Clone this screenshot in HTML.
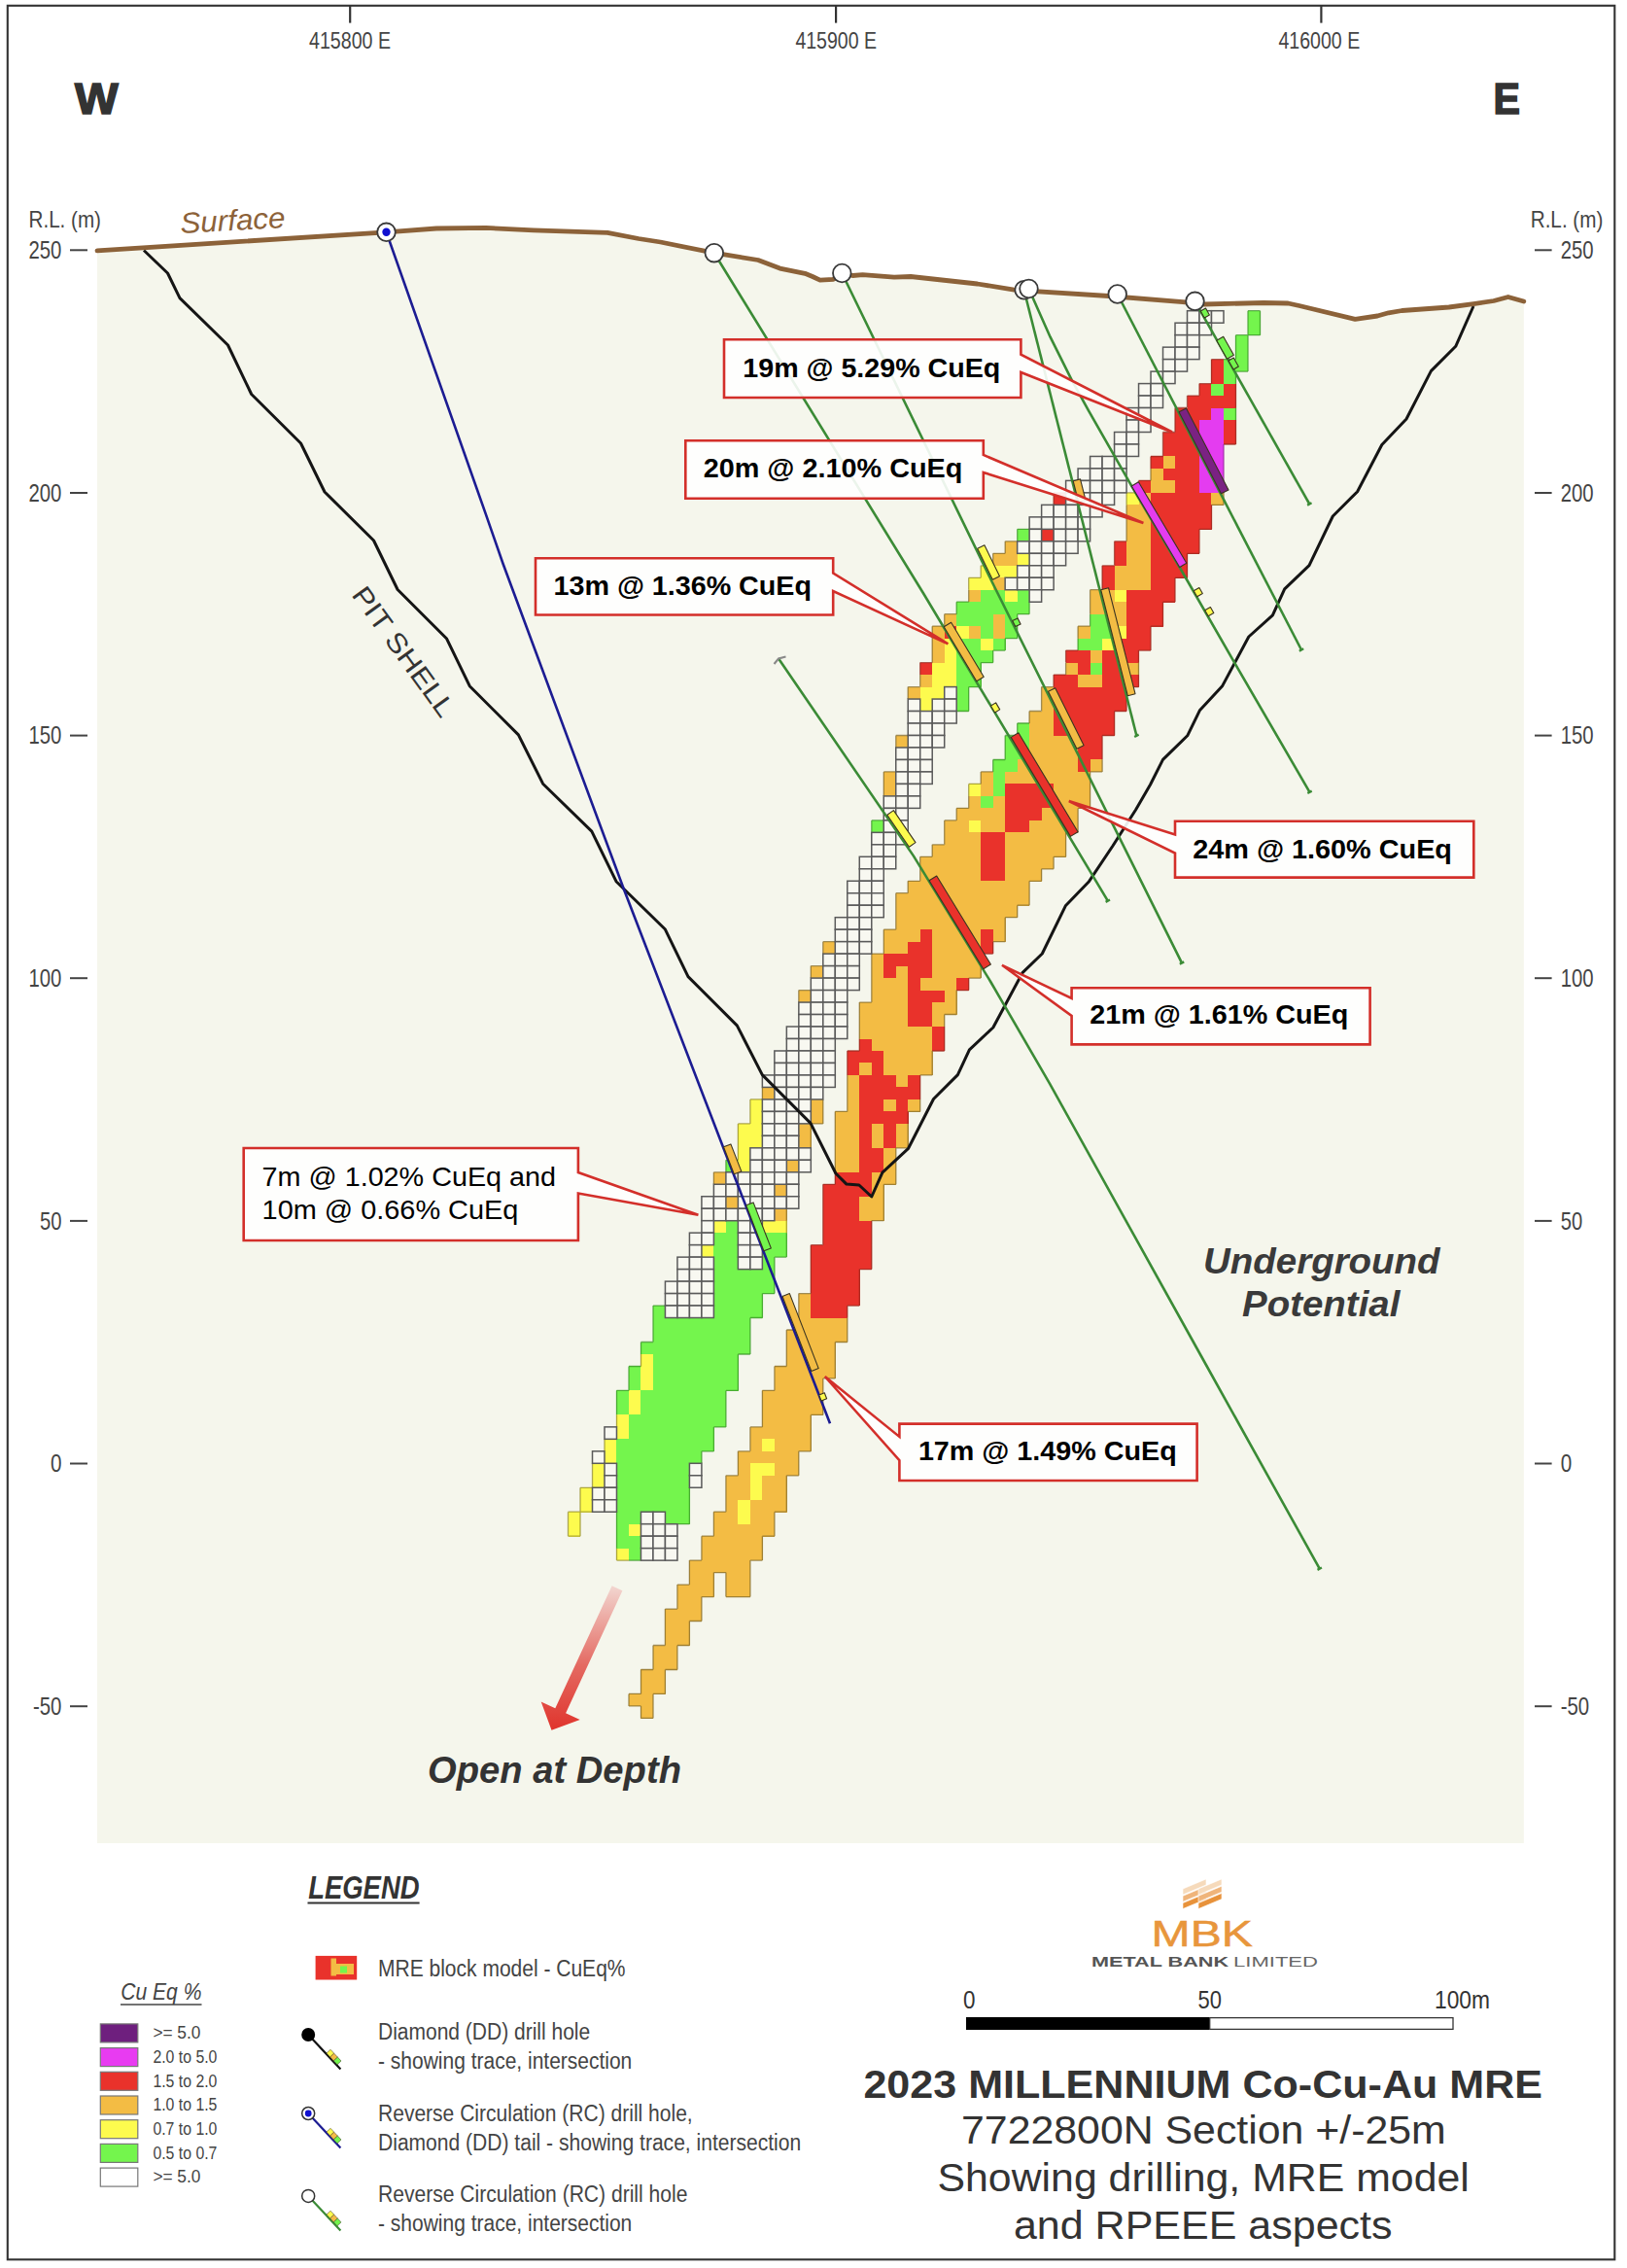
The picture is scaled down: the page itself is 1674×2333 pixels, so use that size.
<!DOCTYPE html>
<html><head><meta charset="utf-8"><style>
html,body{margin:0;padding:0;background:#fff;}
svg{display:block;}
text{font-family:"Liberation Sans", sans-serif;}
</style></head><body>
<svg width="1674" height="2333" viewBox="0 0 1674 2333">
<defs>
<linearGradient id="arrg" x1="0" y1="0" x2="0" y2="1">
<stop offset="0" stop-color="#F2D6D0"/><stop offset="0.55" stop-color="#E46A62"/><stop offset="1" stop-color="#E0342C"/>
</linearGradient>
</defs>
<rect x="0" y="0" width="1674" height="2333" fill="#fff"/>

<polygon points="100.0,257.9 397.5,238.8 449.0,235.0 500.0,234.4 549.0,236.8 625.0,239.3 657.0,245.5 679.5,249.0 734.8,260.2 780.0,267.5 802.4,276.1 828.2,281.3 836.0,284.5 843.7,288.2 857.5,287.3 866.3,281.5 877.2,283.5 887.6,282.6 920.0,285.2 937.0,284.5 1005.6,292.0 1045.0,298.3 1140.8,304.5 1217.0,310.6 1239.0,313.0 1300.0,311.5 1325.3,312.0 1336.8,314.5 1394.3,328.3 1417.2,325.0 1428.7,321.8 1442.5,319.5 1490.8,316.0 1516.0,312.6 1536.8,309.5 1551.7,305.5 1567.8,310.0 1567.8,1896 100,1896" fill="#F5F6EC"/>
<g shape-rendering="crispEdges"><rect x="1283.96" y="319.70" width="12.84" height="12.83" fill="#74F54D"/><rect x="1283.96" y="332.18" width="12.84" height="12.83" fill="#74F54D"/><rect x="1271.47" y="344.66" width="12.84" height="12.83" fill="#74F54D"/><rect x="1271.47" y="357.14" width="12.84" height="12.83" fill="#74F54D"/><rect x="1246.49" y="369.62" width="12.84" height="12.83" fill="#E9322B"/><rect x="1258.98" y="369.62" width="12.84" height="12.83" fill="#74F54D"/><rect x="1271.47" y="369.62" width="12.84" height="12.83" fill="#74F54D"/><rect x="1246.49" y="382.10" width="12.84" height="12.83" fill="#E9322B"/><rect x="1258.98" y="382.10" width="12.84" height="12.83" fill="#74F54D"/><rect x="1234.00" y="394.58" width="12.84" height="12.83" fill="#E9322B"/><rect x="1246.49" y="394.58" width="12.84" height="12.83" fill="#74F54D"/><rect x="1258.98" y="394.58" width="12.84" height="12.83" fill="#E9322B"/><rect x="1221.51" y="407.06" width="12.84" height="12.83" fill="#E9322B"/><rect x="1234.00" y="407.06" width="12.84" height="12.83" fill="#E9322B"/><rect x="1246.49" y="407.06" width="12.84" height="12.83" fill="#E9322B"/><rect x="1258.98" y="407.06" width="12.84" height="12.83" fill="#E9322B"/><rect x="1209.02" y="419.54" width="12.84" height="12.83" fill="#E9322B"/><rect x="1221.51" y="419.54" width="12.84" height="12.83" fill="#E9322B"/><rect x="1234.00" y="419.54" width="12.84" height="12.83" fill="#E9322B"/><rect x="1246.49" y="419.54" width="12.84" height="12.83" fill="#E43CF0"/><rect x="1258.98" y="419.54" width="12.84" height="12.83" fill="#74F54D"/><rect x="1209.02" y="432.02" width="12.84" height="12.83" fill="#E9322B"/><rect x="1221.51" y="432.02" width="12.84" height="12.83" fill="#E9322B"/><rect x="1234.00" y="432.02" width="12.84" height="12.83" fill="#E43CF0"/><rect x="1246.49" y="432.02" width="12.84" height="12.83" fill="#E43CF0"/><rect x="1258.98" y="432.02" width="12.84" height="12.83" fill="#E9322B"/><rect x="1196.53" y="444.50" width="12.84" height="12.83" fill="#E9322B"/><rect x="1209.02" y="444.50" width="12.84" height="12.83" fill="#E9322B"/><rect x="1221.51" y="444.50" width="12.84" height="12.83" fill="#E9322B"/><rect x="1234.00" y="444.50" width="12.84" height="12.83" fill="#E43CF0"/><rect x="1246.49" y="444.50" width="12.84" height="12.83" fill="#E43CF0"/><rect x="1258.98" y="444.50" width="12.84" height="12.83" fill="#E9322B"/><rect x="1196.53" y="456.98" width="12.84" height="12.83" fill="#E9322B"/><rect x="1209.02" y="456.98" width="12.84" height="12.83" fill="#E9322B"/><rect x="1221.51" y="456.98" width="12.84" height="12.83" fill="#E9322B"/><rect x="1234.00" y="456.98" width="12.84" height="12.83" fill="#E43CF0"/><rect x="1246.49" y="456.98" width="12.84" height="12.83" fill="#E43CF0"/><rect x="1184.04" y="469.46" width="12.84" height="12.83" fill="#E9322B"/><rect x="1196.53" y="469.46" width="12.84" height="12.83" fill="#F3BC44"/><rect x="1209.02" y="469.46" width="12.84" height="12.83" fill="#E9322B"/><rect x="1221.51" y="469.46" width="12.84" height="12.83" fill="#E9322B"/><rect x="1234.00" y="469.46" width="12.84" height="12.83" fill="#E43CF0"/><rect x="1246.49" y="469.46" width="12.84" height="12.83" fill="#E43CF0"/><rect x="1184.04" y="481.94" width="12.84" height="12.83" fill="#F3BC44"/><rect x="1196.53" y="481.94" width="12.84" height="12.83" fill="#E9322B"/><rect x="1209.02" y="481.94" width="12.84" height="12.83" fill="#E9322B"/><rect x="1221.51" y="481.94" width="12.84" height="12.83" fill="#E9322B"/><rect x="1234.00" y="481.94" width="12.84" height="12.83" fill="#E43CF0"/><rect x="1246.49" y="481.94" width="12.84" height="12.83" fill="#E43CF0"/><rect x="1171.55" y="494.42" width="12.84" height="12.83" fill="#E9322B"/><rect x="1184.04" y="494.42" width="12.84" height="12.83" fill="#F3BC44"/><rect x="1196.53" y="494.42" width="12.84" height="12.83" fill="#F3BC44"/><rect x="1209.02" y="494.42" width="12.84" height="12.83" fill="#E9322B"/><rect x="1221.51" y="494.42" width="12.84" height="12.83" fill="#E9322B"/><rect x="1234.00" y="494.42" width="12.84" height="12.83" fill="#E43CF0"/><rect x="1246.49" y="494.42" width="12.84" height="12.83" fill="#E43CF0"/><rect x="1084.12" y="506.90" width="12.84" height="12.83" fill="#E9322B"/><rect x="1159.06" y="506.90" width="12.84" height="12.83" fill="#FDFB4E"/><rect x="1171.55" y="506.90" width="12.84" height="12.83" fill="#F3BC44"/><rect x="1184.04" y="506.90" width="12.84" height="12.83" fill="#E9322B"/><rect x="1196.53" y="506.90" width="12.84" height="12.83" fill="#E9322B"/><rect x="1209.02" y="506.90" width="12.84" height="12.83" fill="#E9322B"/><rect x="1221.51" y="506.90" width="12.84" height="12.83" fill="#E9322B"/><rect x="1234.00" y="506.90" width="12.84" height="12.83" fill="#E9322B"/><rect x="1246.49" y="506.90" width="12.84" height="12.83" fill="#F3BC44"/><rect x="1159.06" y="519.38" width="12.84" height="12.83" fill="#F3BC44"/><rect x="1171.55" y="519.38" width="12.84" height="12.83" fill="#F3BC44"/><rect x="1184.04" y="519.38" width="12.84" height="12.83" fill="#E9322B"/><rect x="1196.53" y="519.38" width="12.84" height="12.83" fill="#E9322B"/><rect x="1209.02" y="519.38" width="12.84" height="12.83" fill="#E9322B"/><rect x="1221.51" y="519.38" width="12.84" height="12.83" fill="#E9322B"/><rect x="1234.00" y="519.38" width="12.84" height="12.83" fill="#E9322B"/><rect x="1159.06" y="531.86" width="12.84" height="12.83" fill="#F3BC44"/><rect x="1171.55" y="531.86" width="12.84" height="12.83" fill="#F3BC44"/><rect x="1184.04" y="531.86" width="12.84" height="12.83" fill="#E9322B"/><rect x="1196.53" y="531.86" width="12.84" height="12.83" fill="#E9322B"/><rect x="1209.02" y="531.86" width="12.84" height="12.83" fill="#E9322B"/><rect x="1221.51" y="531.86" width="12.84" height="12.83" fill="#E9322B"/><rect x="1234.00" y="531.86" width="12.84" height="12.83" fill="#E9322B"/><rect x="1046.65" y="544.34" width="12.84" height="12.83" fill="#74F54D"/><rect x="1071.63" y="544.34" width="12.84" height="12.83" fill="#E9322B"/><rect x="1159.06" y="544.34" width="12.84" height="12.83" fill="#F3BC44"/><rect x="1171.55" y="544.34" width="12.84" height="12.83" fill="#F3BC44"/><rect x="1184.04" y="544.34" width="12.84" height="12.83" fill="#E9322B"/><rect x="1196.53" y="544.34" width="12.84" height="12.83" fill="#E9322B"/><rect x="1209.02" y="544.34" width="12.84" height="12.83" fill="#E9322B"/><rect x="1221.51" y="544.34" width="12.84" height="12.83" fill="#E9322B"/><rect x="1034.16" y="556.82" width="12.84" height="12.83" fill="#F3BC44"/><rect x="1146.57" y="556.82" width="12.84" height="12.83" fill="#E9322B"/><rect x="1159.06" y="556.82" width="12.84" height="12.83" fill="#F3BC44"/><rect x="1171.55" y="556.82" width="12.84" height="12.83" fill="#F3BC44"/><rect x="1184.04" y="556.82" width="12.84" height="12.83" fill="#E9322B"/><rect x="1196.53" y="556.82" width="12.84" height="12.83" fill="#E9322B"/><rect x="1209.02" y="556.82" width="12.84" height="12.83" fill="#E9322B"/><rect x="1221.51" y="556.82" width="12.84" height="12.83" fill="#E9322B"/><rect x="1021.67" y="569.30" width="12.84" height="12.83" fill="#F3BC44"/><rect x="1034.16" y="569.30" width="12.84" height="12.83" fill="#F3BC44"/><rect x="1046.65" y="569.30" width="12.84" height="12.83" fill="#FDFB4E"/><rect x="1146.57" y="569.30" width="12.84" height="12.83" fill="#E9322B"/><rect x="1159.06" y="569.30" width="12.84" height="12.83" fill="#F3BC44"/><rect x="1171.55" y="569.30" width="12.84" height="12.83" fill="#F3BC44"/><rect x="1184.04" y="569.30" width="12.84" height="12.83" fill="#E9322B"/><rect x="1196.53" y="569.30" width="12.84" height="12.83" fill="#E9322B"/><rect x="1209.02" y="569.30" width="12.84" height="12.83" fill="#E9322B"/><rect x="1009.18" y="581.78" width="12.84" height="12.83" fill="#FDFB4E"/><rect x="1021.67" y="581.78" width="12.84" height="12.83" fill="#FDFB4E"/><rect x="1034.16" y="581.78" width="12.84" height="12.83" fill="#FDFB4E"/><rect x="1134.08" y="581.78" width="12.84" height="12.83" fill="#E9322B"/><rect x="1146.57" y="581.78" width="12.84" height="12.83" fill="#F3BC44"/><rect x="1159.06" y="581.78" width="12.84" height="12.83" fill="#F3BC44"/><rect x="1171.55" y="581.78" width="12.84" height="12.83" fill="#F3BC44"/><rect x="1184.04" y="581.78" width="12.84" height="12.83" fill="#E9322B"/><rect x="1196.53" y="581.78" width="12.84" height="12.83" fill="#E9322B"/><rect x="1209.02" y="581.78" width="12.84" height="12.83" fill="#E9322B"/><rect x="996.69" y="594.26" width="12.84" height="12.83" fill="#FDFB4E"/><rect x="1009.18" y="594.26" width="12.84" height="12.83" fill="#FDFB4E"/><rect x="1021.67" y="594.26" width="12.84" height="12.83" fill="#F3BC44"/><rect x="1134.08" y="594.26" width="12.84" height="12.83" fill="#E9322B"/><rect x="1146.57" y="594.26" width="12.84" height="12.83" fill="#F3BC44"/><rect x="1159.06" y="594.26" width="12.84" height="12.83" fill="#F3BC44"/><rect x="1171.55" y="594.26" width="12.84" height="12.83" fill="#F3BC44"/><rect x="1184.04" y="594.26" width="12.84" height="12.83" fill="#E9322B"/><rect x="1196.53" y="594.26" width="12.84" height="12.83" fill="#E9322B"/><rect x="996.69" y="606.74" width="12.84" height="12.83" fill="#F3BC44"/><rect x="1009.18" y="606.74" width="12.84" height="12.83" fill="#74F54D"/><rect x="1021.67" y="606.74" width="12.84" height="12.83" fill="#74F54D"/><rect x="1034.16" y="606.74" width="12.84" height="12.83" fill="#FDFB4E"/><rect x="1046.65" y="606.74" width="12.84" height="12.83" fill="#74F54D"/><rect x="1121.59" y="606.74" width="12.84" height="12.83" fill="#F3BC44"/><rect x="1134.08" y="606.74" width="12.84" height="12.83" fill="#F3BC44"/><rect x="1146.57" y="606.74" width="12.84" height="12.83" fill="#FDFB4E"/><rect x="1159.06" y="606.74" width="12.84" height="12.83" fill="#E9322B"/><rect x="1171.55" y="606.74" width="12.84" height="12.83" fill="#E9322B"/><rect x="1184.04" y="606.74" width="12.84" height="12.83" fill="#E9322B"/><rect x="1196.53" y="606.74" width="12.84" height="12.83" fill="#E9322B"/><rect x="984.20" y="619.22" width="12.84" height="12.83" fill="#74F54D"/><rect x="996.69" y="619.22" width="12.84" height="12.83" fill="#74F54D"/><rect x="1009.18" y="619.22" width="12.84" height="12.83" fill="#74F54D"/><rect x="1021.67" y="619.22" width="12.84" height="12.83" fill="#74F54D"/><rect x="1034.16" y="619.22" width="12.84" height="12.83" fill="#74F54D"/><rect x="1046.65" y="619.22" width="12.84" height="12.83" fill="#74F54D"/><rect x="1121.59" y="619.22" width="12.84" height="12.83" fill="#F3BC44"/><rect x="1134.08" y="619.22" width="12.84" height="12.83" fill="#F3BC44"/><rect x="1146.57" y="619.22" width="12.84" height="12.83" fill="#F3BC44"/><rect x="1159.06" y="619.22" width="12.84" height="12.83" fill="#E9322B"/><rect x="1171.55" y="619.22" width="12.84" height="12.83" fill="#E9322B"/><rect x="1184.04" y="619.22" width="12.84" height="12.83" fill="#E9322B"/><rect x="971.71" y="631.70" width="12.84" height="12.83" fill="#F3BC44"/><rect x="984.20" y="631.70" width="12.84" height="12.83" fill="#74F54D"/><rect x="996.69" y="631.70" width="12.84" height="12.83" fill="#74F54D"/><rect x="1009.18" y="631.70" width="12.84" height="12.83" fill="#74F54D"/><rect x="1021.67" y="631.70" width="12.84" height="12.83" fill="#F3BC44"/><rect x="1034.16" y="631.70" width="12.84" height="12.83" fill="#74F54D"/><rect x="1121.59" y="631.70" width="12.84" height="12.83" fill="#74F54D"/><rect x="1134.08" y="631.70" width="12.84" height="12.83" fill="#74F54D"/><rect x="1146.57" y="631.70" width="12.84" height="12.83" fill="#F3BC44"/><rect x="1159.06" y="631.70" width="12.84" height="12.83" fill="#E9322B"/><rect x="1171.55" y="631.70" width="12.84" height="12.83" fill="#E9322B"/><rect x="1184.04" y="631.70" width="12.84" height="12.83" fill="#E9322B"/><rect x="959.22" y="644.18" width="12.84" height="12.83" fill="#F3BC44"/><rect x="971.71" y="644.18" width="12.84" height="12.83" fill="#E9322B"/><rect x="984.20" y="644.18" width="12.84" height="12.83" fill="#FDFB4E"/><rect x="996.69" y="644.18" width="12.84" height="12.83" fill="#F3BC44"/><rect x="1009.18" y="644.18" width="12.84" height="12.83" fill="#74F54D"/><rect x="1021.67" y="644.18" width="12.84" height="12.83" fill="#F3BC44"/><rect x="1034.16" y="644.18" width="12.84" height="12.83" fill="#74F54D"/><rect x="1109.10" y="644.18" width="12.84" height="12.83" fill="#F3BC44"/><rect x="1121.59" y="644.18" width="12.84" height="12.83" fill="#74F54D"/><rect x="1134.08" y="644.18" width="12.84" height="12.83" fill="#74F54D"/><rect x="1146.57" y="644.18" width="12.84" height="12.83" fill="#FDFB4E"/><rect x="1159.06" y="644.18" width="12.84" height="12.83" fill="#E9322B"/><rect x="1171.55" y="644.18" width="12.84" height="12.83" fill="#E9322B"/><rect x="959.22" y="656.66" width="12.84" height="12.83" fill="#F3BC44"/><rect x="971.71" y="656.66" width="12.84" height="12.83" fill="#FDFB4E"/><rect x="984.20" y="656.66" width="12.84" height="12.83" fill="#74F54D"/><rect x="996.69" y="656.66" width="12.84" height="12.83" fill="#74F54D"/><rect x="1009.18" y="656.66" width="12.84" height="12.83" fill="#FDFB4E"/><rect x="1021.67" y="656.66" width="12.84" height="12.83" fill="#74F54D"/><rect x="1109.10" y="656.66" width="12.84" height="12.83" fill="#74F54D"/><rect x="1121.59" y="656.66" width="12.84" height="12.83" fill="#74F54D"/><rect x="1134.08" y="656.66" width="12.84" height="12.83" fill="#FDFB4E"/><rect x="1146.57" y="656.66" width="12.84" height="12.83" fill="#E9322B"/><rect x="1159.06" y="656.66" width="12.84" height="12.83" fill="#E9322B"/><rect x="1171.55" y="656.66" width="12.84" height="12.83" fill="#E9322B"/><rect x="959.22" y="669.14" width="12.84" height="12.83" fill="#F3BC44"/><rect x="971.71" y="669.14" width="12.84" height="12.83" fill="#FDFB4E"/><rect x="984.20" y="669.14" width="12.84" height="12.83" fill="#74F54D"/><rect x="996.69" y="669.14" width="12.84" height="12.83" fill="#74F54D"/><rect x="1009.18" y="669.14" width="12.84" height="12.83" fill="#74F54D"/><rect x="1096.61" y="669.14" width="12.84" height="12.83" fill="#E9322B"/><rect x="1109.10" y="669.14" width="12.84" height="12.83" fill="#E9322B"/><rect x="1121.59" y="669.14" width="12.84" height="12.83" fill="#F3BC44"/><rect x="1134.08" y="669.14" width="12.84" height="12.83" fill="#E9322B"/><rect x="1146.57" y="669.14" width="12.84" height="12.83" fill="#E9322B"/><rect x="1159.06" y="669.14" width="12.84" height="12.83" fill="#E9322B"/><rect x="946.73" y="681.62" width="12.84" height="12.83" fill="#E9322B"/><rect x="959.22" y="681.62" width="12.84" height="12.83" fill="#FDFB4E"/><rect x="971.71" y="681.62" width="12.84" height="12.83" fill="#FDFB4E"/><rect x="984.20" y="681.62" width="12.84" height="12.83" fill="#74F54D"/><rect x="996.69" y="681.62" width="12.84" height="12.83" fill="#74F54D"/><rect x="1096.61" y="681.62" width="12.84" height="12.83" fill="#F3BC44"/><rect x="1109.10" y="681.62" width="12.84" height="12.83" fill="#E9322B"/><rect x="1121.59" y="681.62" width="12.84" height="12.83" fill="#74F54D"/><rect x="1134.08" y="681.62" width="12.84" height="12.83" fill="#E9322B"/><rect x="1146.57" y="681.62" width="12.84" height="12.83" fill="#E9322B"/><rect x="1159.06" y="681.62" width="12.84" height="12.83" fill="#F3BC44"/><rect x="946.73" y="694.10" width="12.84" height="12.83" fill="#F3BC44"/><rect x="959.22" y="694.10" width="12.84" height="12.83" fill="#FDFB4E"/><rect x="971.71" y="694.10" width="12.84" height="12.83" fill="#FDFB4E"/><rect x="984.20" y="694.10" width="12.84" height="12.83" fill="#74F54D"/><rect x="996.69" y="694.10" width="12.84" height="12.83" fill="#74F54D"/><rect x="1084.12" y="694.10" width="12.84" height="12.83" fill="#E9322B"/><rect x="1096.61" y="694.10" width="12.84" height="12.83" fill="#E9322B"/><rect x="1109.10" y="694.10" width="12.84" height="12.83" fill="#F3BC44"/><rect x="1121.59" y="694.10" width="12.84" height="12.83" fill="#F3BC44"/><rect x="1134.08" y="694.10" width="12.84" height="12.83" fill="#E9322B"/><rect x="1146.57" y="694.10" width="12.84" height="12.83" fill="#E9322B"/><rect x="1159.06" y="694.10" width="12.84" height="12.83" fill="#E9322B"/><rect x="934.24" y="706.58" width="12.84" height="12.83" fill="#F3BC44"/><rect x="946.73" y="706.58" width="12.84" height="12.83" fill="#FDFB4E"/><rect x="959.22" y="706.58" width="12.84" height="12.83" fill="#FDFB4E"/><rect x="984.20" y="706.58" width="12.84" height="12.83" fill="#74F54D"/><rect x="1071.63" y="706.58" width="12.84" height="12.83" fill="#F3BC44"/><rect x="1084.12" y="706.58" width="12.84" height="12.83" fill="#E9322B"/><rect x="1096.61" y="706.58" width="12.84" height="12.83" fill="#E9322B"/><rect x="1109.10" y="706.58" width="12.84" height="12.83" fill="#E9322B"/><rect x="1121.59" y="706.58" width="12.84" height="12.83" fill="#E9322B"/><rect x="1134.08" y="706.58" width="12.84" height="12.83" fill="#E9322B"/><rect x="1146.57" y="706.58" width="12.84" height="12.83" fill="#E9322B"/><rect x="946.73" y="719.06" width="12.84" height="12.83" fill="#FDFB4E"/><rect x="984.20" y="719.06" width="12.84" height="12.83" fill="#74F54D"/><rect x="1071.63" y="719.06" width="12.84" height="12.83" fill="#F3BC44"/><rect x="1084.12" y="719.06" width="12.84" height="12.83" fill="#E9322B"/><rect x="1096.61" y="719.06" width="12.84" height="12.83" fill="#E9322B"/><rect x="1109.10" y="719.06" width="12.84" height="12.83" fill="#E9322B"/><rect x="1121.59" y="719.06" width="12.84" height="12.83" fill="#E9322B"/><rect x="1134.08" y="719.06" width="12.84" height="12.83" fill="#E9322B"/><rect x="1146.57" y="719.06" width="12.84" height="12.83" fill="#E9322B"/><rect x="1059.14" y="731.54" width="12.84" height="12.83" fill="#F3BC44"/><rect x="1071.63" y="731.54" width="12.84" height="12.83" fill="#F3BC44"/><rect x="1084.12" y="731.54" width="12.84" height="12.83" fill="#E9322B"/><rect x="1096.61" y="731.54" width="12.84" height="12.83" fill="#E9322B"/><rect x="1109.10" y="731.54" width="12.84" height="12.83" fill="#E9322B"/><rect x="1121.59" y="731.54" width="12.84" height="12.83" fill="#E9322B"/><rect x="1134.08" y="731.54" width="12.84" height="12.83" fill="#E9322B"/><rect x="1046.65" y="744.02" width="12.84" height="12.83" fill="#74F54D"/><rect x="1059.14" y="744.02" width="12.84" height="12.83" fill="#F3BC44"/><rect x="1071.63" y="744.02" width="12.84" height="12.83" fill="#F3BC44"/><rect x="1084.12" y="744.02" width="12.84" height="12.83" fill="#E9322B"/><rect x="1096.61" y="744.02" width="12.84" height="12.83" fill="#E9322B"/><rect x="1109.10" y="744.02" width="12.84" height="12.83" fill="#E9322B"/><rect x="1121.59" y="744.02" width="12.84" height="12.83" fill="#E9322B"/><rect x="1134.08" y="744.02" width="12.84" height="12.83" fill="#E9322B"/><rect x="921.75" y="756.50" width="12.84" height="12.83" fill="#F3BC44"/><rect x="1034.16" y="756.50" width="12.84" height="12.83" fill="#74F54D"/><rect x="1046.65" y="756.50" width="12.84" height="12.83" fill="#74F54D"/><rect x="1059.14" y="756.50" width="12.84" height="12.83" fill="#F3BC44"/><rect x="1071.63" y="756.50" width="12.84" height="12.83" fill="#F3BC44"/><rect x="1084.12" y="756.50" width="12.84" height="12.83" fill="#F3BC44"/><rect x="1096.61" y="756.50" width="12.84" height="12.83" fill="#F3BC44"/><rect x="1109.10" y="756.50" width="12.84" height="12.83" fill="#E9322B"/><rect x="1121.59" y="756.50" width="12.84" height="12.83" fill="#E9322B"/><rect x="1034.16" y="768.98" width="12.84" height="12.83" fill="#74F54D"/><rect x="1046.65" y="768.98" width="12.84" height="12.83" fill="#74F54D"/><rect x="1059.14" y="768.98" width="12.84" height="12.83" fill="#F3BC44"/><rect x="1071.63" y="768.98" width="12.84" height="12.83" fill="#F3BC44"/><rect x="1084.12" y="768.98" width="12.84" height="12.83" fill="#F3BC44"/><rect x="1096.61" y="768.98" width="12.84" height="12.83" fill="#F3BC44"/><rect x="1109.10" y="768.98" width="12.84" height="12.83" fill="#E9322B"/><rect x="1121.59" y="768.98" width="12.84" height="12.83" fill="#E9322B"/><rect x="1021.67" y="781.46" width="12.84" height="12.83" fill="#74F54D"/><rect x="1034.16" y="781.46" width="12.84" height="12.83" fill="#74F54D"/><rect x="1046.65" y="781.46" width="12.84" height="12.83" fill="#F3BC44"/><rect x="1059.14" y="781.46" width="12.84" height="12.83" fill="#F3BC44"/><rect x="1071.63" y="781.46" width="12.84" height="12.83" fill="#F3BC44"/><rect x="1084.12" y="781.46" width="12.84" height="12.83" fill="#F3BC44"/><rect x="1096.61" y="781.46" width="12.84" height="12.83" fill="#F3BC44"/><rect x="1109.10" y="781.46" width="12.84" height="12.83" fill="#E9322B"/><rect x="1121.59" y="781.46" width="12.84" height="12.83" fill="#F3BC44"/><rect x="909.26" y="793.94" width="12.84" height="12.83" fill="#F3BC44"/><rect x="1009.18" y="793.94" width="12.84" height="12.83" fill="#F3BC44"/><rect x="1021.67" y="793.94" width="12.84" height="12.83" fill="#74F54D"/><rect x="1034.16" y="793.94" width="12.84" height="12.83" fill="#F3BC44"/><rect x="1046.65" y="793.94" width="12.84" height="12.83" fill="#F3BC44"/><rect x="1059.14" y="793.94" width="12.84" height="12.83" fill="#F3BC44"/><rect x="1071.63" y="793.94" width="12.84" height="12.83" fill="#F3BC44"/><rect x="1084.12" y="793.94" width="12.84" height="12.83" fill="#F3BC44"/><rect x="1096.61" y="793.94" width="12.84" height="12.83" fill="#F3BC44"/><rect x="1109.10" y="793.94" width="12.84" height="12.83" fill="#F3BC44"/><rect x="909.26" y="806.42" width="12.84" height="12.83" fill="#F3BC44"/><rect x="996.69" y="806.42" width="12.84" height="12.83" fill="#FDFB4E"/><rect x="1009.18" y="806.42" width="12.84" height="12.83" fill="#F3BC44"/><rect x="1021.67" y="806.42" width="12.84" height="12.83" fill="#74F54D"/><rect x="1034.16" y="806.42" width="12.84" height="12.83" fill="#E9322B"/><rect x="1046.65" y="806.42" width="12.84" height="12.83" fill="#E9322B"/><rect x="1059.14" y="806.42" width="12.84" height="12.83" fill="#E9322B"/><rect x="1071.63" y="806.42" width="12.84" height="12.83" fill="#E9322B"/><rect x="1084.12" y="806.42" width="12.84" height="12.83" fill="#F3BC44"/><rect x="1096.61" y="806.42" width="12.84" height="12.83" fill="#F3BC44"/><rect x="1109.10" y="806.42" width="12.84" height="12.83" fill="#F3BC44"/><rect x="996.69" y="818.90" width="12.84" height="12.83" fill="#F3BC44"/><rect x="1009.18" y="818.90" width="12.84" height="12.83" fill="#74F54D"/><rect x="1021.67" y="818.90" width="12.84" height="12.83" fill="#F3BC44"/><rect x="1034.16" y="818.90" width="12.84" height="12.83" fill="#E9322B"/><rect x="1046.65" y="818.90" width="12.84" height="12.83" fill="#E9322B"/><rect x="1059.14" y="818.90" width="12.84" height="12.83" fill="#E9322B"/><rect x="1071.63" y="818.90" width="12.84" height="12.83" fill="#E9322B"/><rect x="1084.12" y="818.90" width="12.84" height="12.83" fill="#F3BC44"/><rect x="1096.61" y="818.90" width="12.84" height="12.83" fill="#F3BC44"/><rect x="1109.10" y="818.90" width="12.84" height="12.83" fill="#F3BC44"/><rect x="984.20" y="831.38" width="12.84" height="12.83" fill="#F3BC44"/><rect x="996.69" y="831.38" width="12.84" height="12.83" fill="#F3BC44"/><rect x="1009.18" y="831.38" width="12.84" height="12.83" fill="#F3BC44"/><rect x="1021.67" y="831.38" width="12.84" height="12.83" fill="#F3BC44"/><rect x="1034.16" y="831.38" width="12.84" height="12.83" fill="#E9322B"/><rect x="1046.65" y="831.38" width="12.84" height="12.83" fill="#E9322B"/><rect x="1059.14" y="831.38" width="12.84" height="12.83" fill="#E9322B"/><rect x="1071.63" y="831.38" width="12.84" height="12.83" fill="#F3BC44"/><rect x="1084.12" y="831.38" width="12.84" height="12.83" fill="#F3BC44"/><rect x="1096.61" y="831.38" width="12.84" height="12.83" fill="#F3BC44"/><rect x="896.77" y="843.86" width="12.84" height="12.83" fill="#74F54D"/><rect x="971.71" y="843.86" width="12.84" height="12.83" fill="#F3BC44"/><rect x="984.20" y="843.86" width="12.84" height="12.83" fill="#F3BC44"/><rect x="996.69" y="843.86" width="12.84" height="12.83" fill="#FDFB4E"/><rect x="1009.18" y="843.86" width="12.84" height="12.83" fill="#F3BC44"/><rect x="1021.67" y="843.86" width="12.84" height="12.83" fill="#F3BC44"/><rect x="1034.16" y="843.86" width="12.84" height="12.83" fill="#E9322B"/><rect x="1046.65" y="843.86" width="12.84" height="12.83" fill="#E9322B"/><rect x="1059.14" y="843.86" width="12.84" height="12.83" fill="#F3BC44"/><rect x="1071.63" y="843.86" width="12.84" height="12.83" fill="#F3BC44"/><rect x="1084.12" y="843.86" width="12.84" height="12.83" fill="#F3BC44"/><rect x="1096.61" y="843.86" width="12.84" height="12.83" fill="#F3BC44"/><rect x="971.71" y="856.34" width="12.84" height="12.83" fill="#F3BC44"/><rect x="984.20" y="856.34" width="12.84" height="12.83" fill="#F3BC44"/><rect x="996.69" y="856.34" width="12.84" height="12.83" fill="#F3BC44"/><rect x="1009.18" y="856.34" width="12.84" height="12.83" fill="#E9322B"/><rect x="1021.67" y="856.34" width="12.84" height="12.83" fill="#E9322B"/><rect x="1034.16" y="856.34" width="12.84" height="12.83" fill="#F3BC44"/><rect x="1046.65" y="856.34" width="12.84" height="12.83" fill="#F3BC44"/><rect x="1059.14" y="856.34" width="12.84" height="12.83" fill="#F3BC44"/><rect x="1071.63" y="856.34" width="12.84" height="12.83" fill="#F3BC44"/><rect x="1084.12" y="856.34" width="12.84" height="12.83" fill="#F3BC44"/><rect x="959.22" y="868.82" width="12.84" height="12.83" fill="#F3BC44"/><rect x="971.71" y="868.82" width="12.84" height="12.83" fill="#F3BC44"/><rect x="984.20" y="868.82" width="12.84" height="12.83" fill="#F3BC44"/><rect x="996.69" y="868.82" width="12.84" height="12.83" fill="#F3BC44"/><rect x="1009.18" y="868.82" width="12.84" height="12.83" fill="#E9322B"/><rect x="1021.67" y="868.82" width="12.84" height="12.83" fill="#E9322B"/><rect x="1034.16" y="868.82" width="12.84" height="12.83" fill="#F3BC44"/><rect x="1046.65" y="868.82" width="12.84" height="12.83" fill="#F3BC44"/><rect x="1059.14" y="868.82" width="12.84" height="12.83" fill="#F3BC44"/><rect x="1071.63" y="868.82" width="12.84" height="12.83" fill="#F3BC44"/><rect x="1084.12" y="868.82" width="12.84" height="12.83" fill="#F3BC44"/><rect x="946.73" y="881.30" width="12.84" height="12.83" fill="#F3BC44"/><rect x="959.22" y="881.30" width="12.84" height="12.83" fill="#F3BC44"/><rect x="971.71" y="881.30" width="12.84" height="12.83" fill="#F3BC44"/><rect x="984.20" y="881.30" width="12.84" height="12.83" fill="#F3BC44"/><rect x="996.69" y="881.30" width="12.84" height="12.83" fill="#F3BC44"/><rect x="1009.18" y="881.30" width="12.84" height="12.83" fill="#E9322B"/><rect x="1021.67" y="881.30" width="12.84" height="12.83" fill="#E9322B"/><rect x="1034.16" y="881.30" width="12.84" height="12.83" fill="#F3BC44"/><rect x="1046.65" y="881.30" width="12.84" height="12.83" fill="#F3BC44"/><rect x="1059.14" y="881.30" width="12.84" height="12.83" fill="#F3BC44"/><rect x="1071.63" y="881.30" width="12.84" height="12.83" fill="#F3BC44"/><rect x="946.73" y="893.78" width="12.84" height="12.83" fill="#F3BC44"/><rect x="959.22" y="893.78" width="12.84" height="12.83" fill="#F3BC44"/><rect x="971.71" y="893.78" width="12.84" height="12.83" fill="#F3BC44"/><rect x="984.20" y="893.78" width="12.84" height="12.83" fill="#F3BC44"/><rect x="996.69" y="893.78" width="12.84" height="12.83" fill="#F3BC44"/><rect x="1009.18" y="893.78" width="12.84" height="12.83" fill="#E9322B"/><rect x="1021.67" y="893.78" width="12.84" height="12.83" fill="#E9322B"/><rect x="1034.16" y="893.78" width="12.84" height="12.83" fill="#F3BC44"/><rect x="1046.65" y="893.78" width="12.84" height="12.83" fill="#F3BC44"/><rect x="1059.14" y="893.78" width="12.84" height="12.83" fill="#F3BC44"/><rect x="934.24" y="906.26" width="12.84" height="12.83" fill="#F3BC44"/><rect x="946.73" y="906.26" width="12.84" height="12.83" fill="#F3BC44"/><rect x="959.22" y="906.26" width="12.84" height="12.83" fill="#F3BC44"/><rect x="971.71" y="906.26" width="12.84" height="12.83" fill="#F3BC44"/><rect x="984.20" y="906.26" width="12.84" height="12.83" fill="#F3BC44"/><rect x="996.69" y="906.26" width="12.84" height="12.83" fill="#F3BC44"/><rect x="1009.18" y="906.26" width="12.84" height="12.83" fill="#F3BC44"/><rect x="1021.67" y="906.26" width="12.84" height="12.83" fill="#F3BC44"/><rect x="1034.16" y="906.26" width="12.84" height="12.83" fill="#F3BC44"/><rect x="1046.65" y="906.26" width="12.84" height="12.83" fill="#F3BC44"/><rect x="921.75" y="918.74" width="12.84" height="12.83" fill="#F3BC44"/><rect x="934.24" y="918.74" width="12.84" height="12.83" fill="#F3BC44"/><rect x="946.73" y="918.74" width="12.84" height="12.83" fill="#F3BC44"/><rect x="959.22" y="918.74" width="12.84" height="12.83" fill="#F3BC44"/><rect x="971.71" y="918.74" width="12.84" height="12.83" fill="#F3BC44"/><rect x="984.20" y="918.74" width="12.84" height="12.83" fill="#F3BC44"/><rect x="996.69" y="918.74" width="12.84" height="12.83" fill="#F3BC44"/><rect x="1009.18" y="918.74" width="12.84" height="12.83" fill="#F3BC44"/><rect x="1021.67" y="918.74" width="12.84" height="12.83" fill="#F3BC44"/><rect x="1034.16" y="918.74" width="12.84" height="12.83" fill="#F3BC44"/><rect x="1046.65" y="918.74" width="12.84" height="12.83" fill="#F3BC44"/><rect x="921.75" y="931.22" width="12.84" height="12.83" fill="#F3BC44"/><rect x="934.24" y="931.22" width="12.84" height="12.83" fill="#F3BC44"/><rect x="946.73" y="931.22" width="12.84" height="12.83" fill="#F3BC44"/><rect x="959.22" y="931.22" width="12.84" height="12.83" fill="#F3BC44"/><rect x="971.71" y="931.22" width="12.84" height="12.83" fill="#F3BC44"/><rect x="984.20" y="931.22" width="12.84" height="12.83" fill="#F3BC44"/><rect x="996.69" y="931.22" width="12.84" height="12.83" fill="#F3BC44"/><rect x="1009.18" y="931.22" width="12.84" height="12.83" fill="#F3BC44"/><rect x="1021.67" y="931.22" width="12.84" height="12.83" fill="#F3BC44"/><rect x="1034.16" y="931.22" width="12.84" height="12.83" fill="#F3BC44"/><rect x="921.75" y="943.70" width="12.84" height="12.83" fill="#F3BC44"/><rect x="934.24" y="943.70" width="12.84" height="12.83" fill="#F3BC44"/><rect x="946.73" y="943.70" width="12.84" height="12.83" fill="#F3BC44"/><rect x="959.22" y="943.70" width="12.84" height="12.83" fill="#F3BC44"/><rect x="971.71" y="943.70" width="12.84" height="12.83" fill="#F3BC44"/><rect x="984.20" y="943.70" width="12.84" height="12.83" fill="#F3BC44"/><rect x="996.69" y="943.70" width="12.84" height="12.83" fill="#F3BC44"/><rect x="1009.18" y="943.70" width="12.84" height="12.83" fill="#F3BC44"/><rect x="1021.67" y="943.70" width="12.84" height="12.83" fill="#F3BC44"/><rect x="909.26" y="956.18" width="12.84" height="12.83" fill="#F3BC44"/><rect x="921.75" y="956.18" width="12.84" height="12.83" fill="#F3BC44"/><rect x="934.24" y="956.18" width="12.84" height="12.83" fill="#F3BC44"/><rect x="946.73" y="956.18" width="12.84" height="12.83" fill="#E9322B"/><rect x="959.22" y="956.18" width="12.84" height="12.83" fill="#F3BC44"/><rect x="971.71" y="956.18" width="12.84" height="12.83" fill="#F3BC44"/><rect x="984.20" y="956.18" width="12.84" height="12.83" fill="#F3BC44"/><rect x="996.69" y="956.18" width="12.84" height="12.83" fill="#F3BC44"/><rect x="1009.18" y="956.18" width="12.84" height="12.83" fill="#E9322B"/><rect x="1021.67" y="956.18" width="12.84" height="12.83" fill="#F3BC44"/><rect x="846.81" y="968.66" width="12.84" height="12.83" fill="#F3BC44"/><rect x="909.26" y="968.66" width="12.84" height="12.83" fill="#F3BC44"/><rect x="921.75" y="968.66" width="12.84" height="12.83" fill="#F3BC44"/><rect x="934.24" y="968.66" width="12.84" height="12.83" fill="#E9322B"/><rect x="946.73" y="968.66" width="12.84" height="12.83" fill="#E9322B"/><rect x="959.22" y="968.66" width="12.84" height="12.83" fill="#F3BC44"/><rect x="971.71" y="968.66" width="12.84" height="12.83" fill="#F3BC44"/><rect x="984.20" y="968.66" width="12.84" height="12.83" fill="#F3BC44"/><rect x="996.69" y="968.66" width="12.84" height="12.83" fill="#F3BC44"/><rect x="1009.18" y="968.66" width="12.84" height="12.83" fill="#E9322B"/><rect x="896.77" y="981.14" width="12.84" height="12.83" fill="#F3BC44"/><rect x="909.26" y="981.14" width="12.84" height="12.83" fill="#E9322B"/><rect x="921.75" y="981.14" width="12.84" height="12.83" fill="#E9322B"/><rect x="934.24" y="981.14" width="12.84" height="12.83" fill="#E9322B"/><rect x="946.73" y="981.14" width="12.84" height="12.83" fill="#E9322B"/><rect x="959.22" y="981.14" width="12.84" height="12.83" fill="#F3BC44"/><rect x="971.71" y="981.14" width="12.84" height="12.83" fill="#F3BC44"/><rect x="984.20" y="981.14" width="12.84" height="12.83" fill="#F3BC44"/><rect x="996.69" y="981.14" width="12.84" height="12.83" fill="#F3BC44"/><rect x="834.32" y="993.62" width="12.84" height="12.83" fill="#F3BC44"/><rect x="896.77" y="993.62" width="12.84" height="12.83" fill="#F3BC44"/><rect x="909.26" y="993.62" width="12.84" height="12.83" fill="#E9322B"/><rect x="921.75" y="993.62" width="12.84" height="12.83" fill="#F3BC44"/><rect x="934.24" y="993.62" width="12.84" height="12.83" fill="#E9322B"/><rect x="946.73" y="993.62" width="12.84" height="12.83" fill="#E9322B"/><rect x="959.22" y="993.62" width="12.84" height="12.83" fill="#F3BC44"/><rect x="971.71" y="993.62" width="12.84" height="12.83" fill="#F3BC44"/><rect x="984.20" y="993.62" width="12.84" height="12.83" fill="#F3BC44"/><rect x="996.69" y="993.62" width="12.84" height="12.83" fill="#F3BC44"/><rect x="896.77" y="1006.10" width="12.84" height="12.83" fill="#F3BC44"/><rect x="909.26" y="1006.10" width="12.84" height="12.83" fill="#F3BC44"/><rect x="921.75" y="1006.10" width="12.84" height="12.83" fill="#F3BC44"/><rect x="934.24" y="1006.10" width="12.84" height="12.83" fill="#E9322B"/><rect x="946.73" y="1006.10" width="12.84" height="12.83" fill="#F3BC44"/><rect x="959.22" y="1006.10" width="12.84" height="12.83" fill="#F3BC44"/><rect x="971.71" y="1006.10" width="12.84" height="12.83" fill="#F3BC44"/><rect x="984.20" y="1006.10" width="12.84" height="12.83" fill="#E9322B"/><rect x="821.83" y="1018.58" width="12.84" height="12.83" fill="#F3BC44"/><rect x="896.77" y="1018.58" width="12.84" height="12.83" fill="#F3BC44"/><rect x="909.26" y="1018.58" width="12.84" height="12.83" fill="#F3BC44"/><rect x="921.75" y="1018.58" width="12.84" height="12.83" fill="#F3BC44"/><rect x="934.24" y="1018.58" width="12.84" height="12.83" fill="#E9322B"/><rect x="946.73" y="1018.58" width="12.84" height="12.83" fill="#E9322B"/><rect x="959.22" y="1018.58" width="12.84" height="12.83" fill="#E9322B"/><rect x="971.71" y="1018.58" width="12.84" height="12.83" fill="#F3BC44"/><rect x="884.28" y="1031.06" width="12.84" height="12.83" fill="#F3BC44"/><rect x="896.77" y="1031.06" width="12.84" height="12.83" fill="#F3BC44"/><rect x="909.26" y="1031.06" width="12.84" height="12.83" fill="#F3BC44"/><rect x="921.75" y="1031.06" width="12.84" height="12.83" fill="#F3BC44"/><rect x="934.24" y="1031.06" width="12.84" height="12.83" fill="#E9322B"/><rect x="946.73" y="1031.06" width="12.84" height="12.83" fill="#E9322B"/><rect x="959.22" y="1031.06" width="12.84" height="12.83" fill="#F3BC44"/><rect x="971.71" y="1031.06" width="12.84" height="12.83" fill="#F3BC44"/><rect x="884.28" y="1043.54" width="12.84" height="12.83" fill="#F3BC44"/><rect x="896.77" y="1043.54" width="12.84" height="12.83" fill="#F3BC44"/><rect x="909.26" y="1043.54" width="12.84" height="12.83" fill="#F3BC44"/><rect x="921.75" y="1043.54" width="12.84" height="12.83" fill="#F3BC44"/><rect x="934.24" y="1043.54" width="12.84" height="12.83" fill="#E9322B"/><rect x="946.73" y="1043.54" width="12.84" height="12.83" fill="#E9322B"/><rect x="959.22" y="1043.54" width="12.84" height="12.83" fill="#F3BC44"/><rect x="884.28" y="1056.02" width="12.84" height="12.83" fill="#F3BC44"/><rect x="896.77" y="1056.02" width="12.84" height="12.83" fill="#F3BC44"/><rect x="909.26" y="1056.02" width="12.84" height="12.83" fill="#F3BC44"/><rect x="921.75" y="1056.02" width="12.84" height="12.83" fill="#F3BC44"/><rect x="934.24" y="1056.02" width="12.84" height="12.83" fill="#F3BC44"/><rect x="946.73" y="1056.02" width="12.84" height="12.83" fill="#F3BC44"/><rect x="959.22" y="1056.02" width="12.84" height="12.83" fill="#E9322B"/><rect x="884.28" y="1068.50" width="12.84" height="12.83" fill="#E9322B"/><rect x="896.77" y="1068.50" width="12.84" height="12.83" fill="#F3BC44"/><rect x="909.26" y="1068.50" width="12.84" height="12.83" fill="#F3BC44"/><rect x="921.75" y="1068.50" width="12.84" height="12.83" fill="#F3BC44"/><rect x="934.24" y="1068.50" width="12.84" height="12.83" fill="#F3BC44"/><rect x="946.73" y="1068.50" width="12.84" height="12.83" fill="#F3BC44"/><rect x="959.22" y="1068.50" width="12.84" height="12.83" fill="#E9322B"/><rect x="871.79" y="1080.98" width="12.84" height="12.83" fill="#E9322B"/><rect x="884.28" y="1080.98" width="12.84" height="12.83" fill="#E9322B"/><rect x="896.77" y="1080.98" width="12.84" height="12.83" fill="#E9322B"/><rect x="909.26" y="1080.98" width="12.84" height="12.83" fill="#F3BC44"/><rect x="921.75" y="1080.98" width="12.84" height="12.83" fill="#F3BC44"/><rect x="934.24" y="1080.98" width="12.84" height="12.83" fill="#F3BC44"/><rect x="946.73" y="1080.98" width="12.84" height="12.83" fill="#F3BC44"/><rect x="871.79" y="1093.46" width="12.84" height="12.83" fill="#E9322B"/><rect x="884.28" y="1093.46" width="12.84" height="12.83" fill="#F3BC44"/><rect x="896.77" y="1093.46" width="12.84" height="12.83" fill="#E9322B"/><rect x="909.26" y="1093.46" width="12.84" height="12.83" fill="#F3BC44"/><rect x="921.75" y="1093.46" width="12.84" height="12.83" fill="#F3BC44"/><rect x="934.24" y="1093.46" width="12.84" height="12.83" fill="#F3BC44"/><rect x="946.73" y="1093.46" width="12.84" height="12.83" fill="#F3BC44"/><rect x="871.79" y="1105.94" width="12.84" height="12.83" fill="#F3BC44"/><rect x="884.28" y="1105.94" width="12.84" height="12.83" fill="#E9322B"/><rect x="896.77" y="1105.94" width="12.84" height="12.83" fill="#E9322B"/><rect x="909.26" y="1105.94" width="12.84" height="12.83" fill="#E9322B"/><rect x="921.75" y="1105.94" width="12.84" height="12.83" fill="#F3BC44"/><rect x="934.24" y="1105.94" width="12.84" height="12.83" fill="#E9322B"/><rect x="784.36" y="1118.42" width="12.84" height="12.83" fill="#F3BC44"/><rect x="871.79" y="1118.42" width="12.84" height="12.83" fill="#F3BC44"/><rect x="884.28" y="1118.42" width="12.84" height="12.83" fill="#E9322B"/><rect x="896.77" y="1118.42" width="12.84" height="12.83" fill="#E9322B"/><rect x="909.26" y="1118.42" width="12.84" height="12.83" fill="#E9322B"/><rect x="921.75" y="1118.42" width="12.84" height="12.83" fill="#E9322B"/><rect x="934.24" y="1118.42" width="12.84" height="12.83" fill="#E9322B"/><rect x="771.87" y="1130.90" width="12.84" height="12.83" fill="#FDFB4E"/><rect x="834.32" y="1130.90" width="12.84" height="12.83" fill="#F3BC44"/><rect x="871.79" y="1130.90" width="12.84" height="12.83" fill="#F3BC44"/><rect x="884.28" y="1130.90" width="12.84" height="12.83" fill="#E9322B"/><rect x="896.77" y="1130.90" width="12.84" height="12.83" fill="#E9322B"/><rect x="909.26" y="1130.90" width="12.84" height="12.83" fill="#F3BC44"/><rect x="921.75" y="1130.90" width="12.84" height="12.83" fill="#E9322B"/><rect x="934.24" y="1130.90" width="12.84" height="12.83" fill="#F3BC44"/><rect x="771.87" y="1143.38" width="12.84" height="12.83" fill="#FDFB4E"/><rect x="834.32" y="1143.38" width="12.84" height="12.83" fill="#F3BC44"/><rect x="859.30" y="1143.38" width="12.84" height="12.83" fill="#F3BC44"/><rect x="871.79" y="1143.38" width="12.84" height="12.83" fill="#F3BC44"/><rect x="884.28" y="1143.38" width="12.84" height="12.83" fill="#E9322B"/><rect x="896.77" y="1143.38" width="12.84" height="12.83" fill="#E9322B"/><rect x="909.26" y="1143.38" width="12.84" height="12.83" fill="#E9322B"/><rect x="921.75" y="1143.38" width="12.84" height="12.83" fill="#E9322B"/><rect x="759.38" y="1155.86" width="12.84" height="12.83" fill="#FDFB4E"/><rect x="771.87" y="1155.86" width="12.84" height="12.83" fill="#FDFB4E"/><rect x="821.83" y="1155.86" width="12.84" height="12.83" fill="#F3BC44"/><rect x="859.30" y="1155.86" width="12.84" height="12.83" fill="#F3BC44"/><rect x="871.79" y="1155.86" width="12.84" height="12.83" fill="#F3BC44"/><rect x="884.28" y="1155.86" width="12.84" height="12.83" fill="#E9322B"/><rect x="896.77" y="1155.86" width="12.84" height="12.83" fill="#F3BC44"/><rect x="909.26" y="1155.86" width="12.84" height="12.83" fill="#E9322B"/><rect x="921.75" y="1155.86" width="12.84" height="12.83" fill="#F3BC44"/><rect x="759.38" y="1168.34" width="12.84" height="12.83" fill="#FDFB4E"/><rect x="771.87" y="1168.34" width="12.84" height="12.83" fill="#FDFB4E"/><rect x="821.83" y="1168.34" width="12.84" height="12.83" fill="#F3BC44"/><rect x="859.30" y="1168.34" width="12.84" height="12.83" fill="#F3BC44"/><rect x="871.79" y="1168.34" width="12.84" height="12.83" fill="#F3BC44"/><rect x="884.28" y="1168.34" width="12.84" height="12.83" fill="#E9322B"/><rect x="896.77" y="1168.34" width="12.84" height="12.83" fill="#F3BC44"/><rect x="909.26" y="1168.34" width="12.84" height="12.83" fill="#E9322B"/><rect x="921.75" y="1168.34" width="12.84" height="12.83" fill="#F3BC44"/><rect x="759.38" y="1180.82" width="12.84" height="12.83" fill="#FDFB4E"/><rect x="859.30" y="1180.82" width="12.84" height="12.83" fill="#F3BC44"/><rect x="871.79" y="1180.82" width="12.84" height="12.83" fill="#F3BC44"/><rect x="884.28" y="1180.82" width="12.84" height="12.83" fill="#E9322B"/><rect x="896.77" y="1180.82" width="12.84" height="12.83" fill="#E9322B"/><rect x="909.26" y="1180.82" width="12.84" height="12.83" fill="#F3BC44"/><rect x="746.89" y="1193.30" width="12.84" height="12.83" fill="#74F54D"/><rect x="759.38" y="1193.30" width="12.84" height="12.83" fill="#FDFB4E"/><rect x="809.34" y="1193.30" width="12.84" height="12.83" fill="#F3BC44"/><rect x="859.30" y="1193.30" width="12.84" height="12.83" fill="#F3BC44"/><rect x="871.79" y="1193.30" width="12.84" height="12.83" fill="#F3BC44"/><rect x="884.28" y="1193.30" width="12.84" height="12.83" fill="#E9322B"/><rect x="896.77" y="1193.30" width="12.84" height="12.83" fill="#E9322B"/><rect x="909.26" y="1193.30" width="12.84" height="12.83" fill="#F3BC44"/><rect x="734.40" y="1205.78" width="12.84" height="12.83" fill="#F3BC44"/><rect x="859.30" y="1205.78" width="12.84" height="12.83" fill="#E9322B"/><rect x="871.79" y="1205.78" width="12.84" height="12.83" fill="#E9322B"/><rect x="884.28" y="1205.78" width="12.84" height="12.83" fill="#E9322B"/><rect x="896.77" y="1205.78" width="12.84" height="12.83" fill="#F3BC44"/><rect x="909.26" y="1205.78" width="12.84" height="12.83" fill="#F3BC44"/><rect x="796.85" y="1218.26" width="12.84" height="12.83" fill="#F3BC44"/><rect x="846.81" y="1218.26" width="12.84" height="12.83" fill="#E9322B"/><rect x="859.30" y="1218.26" width="12.84" height="12.83" fill="#E9322B"/><rect x="871.79" y="1218.26" width="12.84" height="12.83" fill="#E9322B"/><rect x="884.28" y="1218.26" width="12.84" height="12.83" fill="#E9322B"/><rect x="896.77" y="1218.26" width="12.84" height="12.83" fill="#F3BC44"/><rect x="746.89" y="1230.74" width="12.84" height="12.83" fill="#F3BC44"/><rect x="846.81" y="1230.74" width="12.84" height="12.83" fill="#E9322B"/><rect x="859.30" y="1230.74" width="12.84" height="12.83" fill="#E9322B"/><rect x="871.79" y="1230.74" width="12.84" height="12.83" fill="#E9322B"/><rect x="884.28" y="1230.74" width="12.84" height="12.83" fill="#F3BC44"/><rect x="896.77" y="1230.74" width="12.84" height="12.83" fill="#F3BC44"/><rect x="796.85" y="1243.22" width="12.84" height="12.83" fill="#F3BC44"/><rect x="846.81" y="1243.22" width="12.84" height="12.83" fill="#E9322B"/><rect x="859.30" y="1243.22" width="12.84" height="12.83" fill="#E9322B"/><rect x="871.79" y="1243.22" width="12.84" height="12.83" fill="#E9322B"/><rect x="884.28" y="1243.22" width="12.84" height="12.83" fill="#F3BC44"/><rect x="896.77" y="1243.22" width="12.84" height="12.83" fill="#F3BC44"/><rect x="734.40" y="1255.70" width="12.84" height="12.83" fill="#FDFB4E"/><rect x="746.89" y="1255.70" width="12.84" height="12.83" fill="#74F54D"/><rect x="784.36" y="1255.70" width="12.84" height="12.83" fill="#FDFB4E"/><rect x="796.85" y="1255.70" width="12.84" height="12.83" fill="#FDFB4E"/><rect x="846.81" y="1255.70" width="12.84" height="12.83" fill="#E9322B"/><rect x="859.30" y="1255.70" width="12.84" height="12.83" fill="#E9322B"/><rect x="871.79" y="1255.70" width="12.84" height="12.83" fill="#E9322B"/><rect x="884.28" y="1255.70" width="12.84" height="12.83" fill="#E9322B"/><rect x="734.40" y="1268.18" width="12.84" height="12.83" fill="#74F54D"/><rect x="746.89" y="1268.18" width="12.84" height="12.83" fill="#74F54D"/><rect x="784.36" y="1268.18" width="12.84" height="12.83" fill="#74F54D"/><rect x="796.85" y="1268.18" width="12.84" height="12.83" fill="#74F54D"/><rect x="846.81" y="1268.18" width="12.84" height="12.83" fill="#E9322B"/><rect x="859.30" y="1268.18" width="12.84" height="12.83" fill="#E9322B"/><rect x="871.79" y="1268.18" width="12.84" height="12.83" fill="#E9322B"/><rect x="884.28" y="1268.18" width="12.84" height="12.83" fill="#E9322B"/><rect x="721.91" y="1280.66" width="12.84" height="12.83" fill="#FDFB4E"/><rect x="734.40" y="1280.66" width="12.84" height="12.83" fill="#74F54D"/><rect x="746.89" y="1280.66" width="12.84" height="12.83" fill="#74F54D"/><rect x="784.36" y="1280.66" width="12.84" height="12.83" fill="#74F54D"/><rect x="796.85" y="1280.66" width="12.84" height="12.83" fill="#74F54D"/><rect x="834.32" y="1280.66" width="12.84" height="12.83" fill="#E9322B"/><rect x="846.81" y="1280.66" width="12.84" height="12.83" fill="#E9322B"/><rect x="859.30" y="1280.66" width="12.84" height="12.83" fill="#E9322B"/><rect x="871.79" y="1280.66" width="12.84" height="12.83" fill="#E9322B"/><rect x="884.28" y="1280.66" width="12.84" height="12.83" fill="#E9322B"/><rect x="734.40" y="1293.14" width="12.84" height="12.83" fill="#74F54D"/><rect x="746.89" y="1293.14" width="12.84" height="12.83" fill="#74F54D"/><rect x="784.36" y="1293.14" width="12.84" height="12.83" fill="#74F54D"/><rect x="834.32" y="1293.14" width="12.84" height="12.83" fill="#E9322B"/><rect x="846.81" y="1293.14" width="12.84" height="12.83" fill="#E9322B"/><rect x="859.30" y="1293.14" width="12.84" height="12.83" fill="#E9322B"/><rect x="871.79" y="1293.14" width="12.84" height="12.83" fill="#E9322B"/><rect x="884.28" y="1293.14" width="12.84" height="12.83" fill="#E9322B"/><rect x="734.40" y="1305.62" width="12.84" height="12.83" fill="#74F54D"/><rect x="746.89" y="1305.62" width="12.84" height="12.83" fill="#74F54D"/><rect x="759.38" y="1305.62" width="12.84" height="12.83" fill="#74F54D"/><rect x="771.87" y="1305.62" width="12.84" height="12.83" fill="#74F54D"/><rect x="784.36" y="1305.62" width="12.84" height="12.83" fill="#74F54D"/><rect x="834.32" y="1305.62" width="12.84" height="12.83" fill="#E9322B"/><rect x="846.81" y="1305.62" width="12.84" height="12.83" fill="#E9322B"/><rect x="859.30" y="1305.62" width="12.84" height="12.83" fill="#E9322B"/><rect x="871.79" y="1305.62" width="12.84" height="12.83" fill="#E9322B"/><rect x="734.40" y="1318.10" width="12.84" height="12.83" fill="#74F54D"/><rect x="746.89" y="1318.10" width="12.84" height="12.83" fill="#74F54D"/><rect x="759.38" y="1318.10" width="12.84" height="12.83" fill="#74F54D"/><rect x="771.87" y="1318.10" width="12.84" height="12.83" fill="#74F54D"/><rect x="784.36" y="1318.10" width="12.84" height="12.83" fill="#74F54D"/><rect x="834.32" y="1318.10" width="12.84" height="12.83" fill="#E9322B"/><rect x="846.81" y="1318.10" width="12.84" height="12.83" fill="#E9322B"/><rect x="859.30" y="1318.10" width="12.84" height="12.83" fill="#E9322B"/><rect x="871.79" y="1318.10" width="12.84" height="12.83" fill="#E9322B"/><rect x="734.40" y="1330.58" width="12.84" height="12.83" fill="#74F54D"/><rect x="746.89" y="1330.58" width="12.84" height="12.83" fill="#74F54D"/><rect x="759.38" y="1330.58" width="12.84" height="12.83" fill="#74F54D"/><rect x="771.87" y="1330.58" width="12.84" height="12.83" fill="#74F54D"/><rect x="821.83" y="1330.58" width="12.84" height="12.83" fill="#F3BC44"/><rect x="834.32" y="1330.58" width="12.84" height="12.83" fill="#E9322B"/><rect x="846.81" y="1330.58" width="12.84" height="12.83" fill="#E9322B"/><rect x="859.30" y="1330.58" width="12.84" height="12.83" fill="#E9322B"/><rect x="871.79" y="1330.58" width="12.84" height="12.83" fill="#E9322B"/><rect x="671.95" y="1343.06" width="12.84" height="12.83" fill="#74F54D"/><rect x="734.40" y="1343.06" width="12.84" height="12.83" fill="#74F54D"/><rect x="746.89" y="1343.06" width="12.84" height="12.83" fill="#74F54D"/><rect x="759.38" y="1343.06" width="12.84" height="12.83" fill="#74F54D"/><rect x="771.87" y="1343.06" width="12.84" height="12.83" fill="#74F54D"/><rect x="821.83" y="1343.06" width="12.84" height="12.83" fill="#F3BC44"/><rect x="834.32" y="1343.06" width="12.84" height="12.83" fill="#E9322B"/><rect x="846.81" y="1343.06" width="12.84" height="12.83" fill="#E9322B"/><rect x="859.30" y="1343.06" width="12.84" height="12.83" fill="#E9322B"/><rect x="671.95" y="1355.54" width="12.84" height="12.83" fill="#74F54D"/><rect x="684.44" y="1355.54" width="12.84" height="12.83" fill="#74F54D"/><rect x="696.93" y="1355.54" width="12.84" height="12.83" fill="#74F54D"/><rect x="709.42" y="1355.54" width="12.84" height="12.83" fill="#74F54D"/><rect x="721.91" y="1355.54" width="12.84" height="12.83" fill="#74F54D"/><rect x="734.40" y="1355.54" width="12.84" height="12.83" fill="#74F54D"/><rect x="746.89" y="1355.54" width="12.84" height="12.83" fill="#74F54D"/><rect x="759.38" y="1355.54" width="12.84" height="12.83" fill="#74F54D"/><rect x="821.83" y="1355.54" width="12.84" height="12.83" fill="#F3BC44"/><rect x="834.32" y="1355.54" width="12.84" height="12.83" fill="#F3BC44"/><rect x="846.81" y="1355.54" width="12.84" height="12.83" fill="#F3BC44"/><rect x="859.30" y="1355.54" width="12.84" height="12.83" fill="#F3BC44"/><rect x="671.95" y="1368.02" width="12.84" height="12.83" fill="#74F54D"/><rect x="684.44" y="1368.02" width="12.84" height="12.83" fill="#74F54D"/><rect x="696.93" y="1368.02" width="12.84" height="12.83" fill="#74F54D"/><rect x="709.42" y="1368.02" width="12.84" height="12.83" fill="#74F54D"/><rect x="721.91" y="1368.02" width="12.84" height="12.83" fill="#74F54D"/><rect x="734.40" y="1368.02" width="12.84" height="12.83" fill="#74F54D"/><rect x="746.89" y="1368.02" width="12.84" height="12.83" fill="#74F54D"/><rect x="759.38" y="1368.02" width="12.84" height="12.83" fill="#74F54D"/><rect x="809.34" y="1368.02" width="12.84" height="12.83" fill="#F3BC44"/><rect x="821.83" y="1368.02" width="12.84" height="12.83" fill="#F3BC44"/><rect x="834.32" y="1368.02" width="12.84" height="12.83" fill="#F3BC44"/><rect x="846.81" y="1368.02" width="12.84" height="12.83" fill="#F3BC44"/><rect x="859.30" y="1368.02" width="12.84" height="12.83" fill="#F3BC44"/><rect x="659.46" y="1380.50" width="12.84" height="12.83" fill="#74F54D"/><rect x="671.95" y="1380.50" width="12.84" height="12.83" fill="#74F54D"/><rect x="684.44" y="1380.50" width="12.84" height="12.83" fill="#74F54D"/><rect x="696.93" y="1380.50" width="12.84" height="12.83" fill="#74F54D"/><rect x="709.42" y="1380.50" width="12.84" height="12.83" fill="#74F54D"/><rect x="721.91" y="1380.50" width="12.84" height="12.83" fill="#74F54D"/><rect x="734.40" y="1380.50" width="12.84" height="12.83" fill="#74F54D"/><rect x="746.89" y="1380.50" width="12.84" height="12.83" fill="#74F54D"/><rect x="759.38" y="1380.50" width="12.84" height="12.83" fill="#74F54D"/><rect x="809.34" y="1380.50" width="12.84" height="12.83" fill="#F3BC44"/><rect x="821.83" y="1380.50" width="12.84" height="12.83" fill="#F3BC44"/><rect x="834.32" y="1380.50" width="12.84" height="12.83" fill="#F3BC44"/><rect x="846.81" y="1380.50" width="12.84" height="12.83" fill="#F3BC44"/><rect x="659.46" y="1392.98" width="12.84" height="12.83" fill="#FDFB4E"/><rect x="671.95" y="1392.98" width="12.84" height="12.83" fill="#74F54D"/><rect x="684.44" y="1392.98" width="12.84" height="12.83" fill="#74F54D"/><rect x="696.93" y="1392.98" width="12.84" height="12.83" fill="#74F54D"/><rect x="709.42" y="1392.98" width="12.84" height="12.83" fill="#74F54D"/><rect x="721.91" y="1392.98" width="12.84" height="12.83" fill="#74F54D"/><rect x="734.40" y="1392.98" width="12.84" height="12.83" fill="#74F54D"/><rect x="746.89" y="1392.98" width="12.84" height="12.83" fill="#74F54D"/><rect x="809.34" y="1392.98" width="12.84" height="12.83" fill="#F3BC44"/><rect x="821.83" y="1392.98" width="12.84" height="12.83" fill="#F3BC44"/><rect x="834.32" y="1392.98" width="12.84" height="12.83" fill="#F3BC44"/><rect x="846.81" y="1392.98" width="12.84" height="12.83" fill="#F3BC44"/><rect x="646.97" y="1405.46" width="12.84" height="12.83" fill="#74F54D"/><rect x="659.46" y="1405.46" width="12.84" height="12.83" fill="#FDFB4E"/><rect x="671.95" y="1405.46" width="12.84" height="12.83" fill="#74F54D"/><rect x="684.44" y="1405.46" width="12.84" height="12.83" fill="#74F54D"/><rect x="696.93" y="1405.46" width="12.84" height="12.83" fill="#74F54D"/><rect x="709.42" y="1405.46" width="12.84" height="12.83" fill="#74F54D"/><rect x="721.91" y="1405.46" width="12.84" height="12.83" fill="#74F54D"/><rect x="734.40" y="1405.46" width="12.84" height="12.83" fill="#74F54D"/><rect x="746.89" y="1405.46" width="12.84" height="12.83" fill="#74F54D"/><rect x="796.85" y="1405.46" width="12.84" height="12.83" fill="#F3BC44"/><rect x="809.34" y="1405.46" width="12.84" height="12.83" fill="#F3BC44"/><rect x="821.83" y="1405.46" width="12.84" height="12.83" fill="#F3BC44"/><rect x="834.32" y="1405.46" width="12.84" height="12.83" fill="#F3BC44"/><rect x="846.81" y="1405.46" width="12.84" height="12.83" fill="#F3BC44"/><rect x="646.97" y="1417.94" width="12.84" height="12.83" fill="#74F54D"/><rect x="659.46" y="1417.94" width="12.84" height="12.83" fill="#FDFB4E"/><rect x="671.95" y="1417.94" width="12.84" height="12.83" fill="#74F54D"/><rect x="684.44" y="1417.94" width="12.84" height="12.83" fill="#74F54D"/><rect x="696.93" y="1417.94" width="12.84" height="12.83" fill="#74F54D"/><rect x="709.42" y="1417.94" width="12.84" height="12.83" fill="#74F54D"/><rect x="721.91" y="1417.94" width="12.84" height="12.83" fill="#74F54D"/><rect x="734.40" y="1417.94" width="12.84" height="12.83" fill="#74F54D"/><rect x="746.89" y="1417.94" width="12.84" height="12.83" fill="#74F54D"/><rect x="796.85" y="1417.94" width="12.84" height="12.83" fill="#F3BC44"/><rect x="809.34" y="1417.94" width="12.84" height="12.83" fill="#F3BC44"/><rect x="821.83" y="1417.94" width="12.84" height="12.83" fill="#F3BC44"/><rect x="834.32" y="1417.94" width="12.84" height="12.83" fill="#F3BC44"/><rect x="634.48" y="1430.42" width="12.84" height="12.83" fill="#74F54D"/><rect x="646.97" y="1430.42" width="12.84" height="12.83" fill="#FDFB4E"/><rect x="659.46" y="1430.42" width="12.84" height="12.83" fill="#74F54D"/><rect x="671.95" y="1430.42" width="12.84" height="12.83" fill="#74F54D"/><rect x="684.44" y="1430.42" width="12.84" height="12.83" fill="#74F54D"/><rect x="696.93" y="1430.42" width="12.84" height="12.83" fill="#74F54D"/><rect x="709.42" y="1430.42" width="12.84" height="12.83" fill="#74F54D"/><rect x="721.91" y="1430.42" width="12.84" height="12.83" fill="#74F54D"/><rect x="734.40" y="1430.42" width="12.84" height="12.83" fill="#74F54D"/><rect x="784.36" y="1430.42" width="12.84" height="12.83" fill="#F3BC44"/><rect x="796.85" y="1430.42" width="12.84" height="12.83" fill="#F3BC44"/><rect x="809.34" y="1430.42" width="12.84" height="12.83" fill="#F3BC44"/><rect x="821.83" y="1430.42" width="12.84" height="12.83" fill="#F3BC44"/><rect x="834.32" y="1430.42" width="12.84" height="12.83" fill="#F3BC44"/><rect x="634.48" y="1442.90" width="12.84" height="12.83" fill="#74F54D"/><rect x="646.97" y="1442.90" width="12.84" height="12.83" fill="#FDFB4E"/><rect x="659.46" y="1442.90" width="12.84" height="12.83" fill="#74F54D"/><rect x="671.95" y="1442.90" width="12.84" height="12.83" fill="#74F54D"/><rect x="684.44" y="1442.90" width="12.84" height="12.83" fill="#74F54D"/><rect x="696.93" y="1442.90" width="12.84" height="12.83" fill="#74F54D"/><rect x="709.42" y="1442.90" width="12.84" height="12.83" fill="#74F54D"/><rect x="721.91" y="1442.90" width="12.84" height="12.83" fill="#74F54D"/><rect x="734.40" y="1442.90" width="12.84" height="12.83" fill="#74F54D"/><rect x="784.36" y="1442.90" width="12.84" height="12.83" fill="#F3BC44"/><rect x="796.85" y="1442.90" width="12.84" height="12.83" fill="#F3BC44"/><rect x="809.34" y="1442.90" width="12.84" height="12.83" fill="#F3BC44"/><rect x="821.83" y="1442.90" width="12.84" height="12.83" fill="#F3BC44"/><rect x="834.32" y="1442.90" width="12.84" height="12.83" fill="#F3BC44"/><rect x="634.48" y="1455.38" width="12.84" height="12.83" fill="#FDFB4E"/><rect x="646.97" y="1455.38" width="12.84" height="12.83" fill="#74F54D"/><rect x="659.46" y="1455.38" width="12.84" height="12.83" fill="#74F54D"/><rect x="671.95" y="1455.38" width="12.84" height="12.83" fill="#74F54D"/><rect x="684.44" y="1455.38" width="12.84" height="12.83" fill="#74F54D"/><rect x="696.93" y="1455.38" width="12.84" height="12.83" fill="#74F54D"/><rect x="709.42" y="1455.38" width="12.84" height="12.83" fill="#74F54D"/><rect x="721.91" y="1455.38" width="12.84" height="12.83" fill="#74F54D"/><rect x="734.40" y="1455.38" width="12.84" height="12.83" fill="#74F54D"/><rect x="784.36" y="1455.38" width="12.84" height="12.83" fill="#F3BC44"/><rect x="796.85" y="1455.38" width="12.84" height="12.83" fill="#F3BC44"/><rect x="809.34" y="1455.38" width="12.84" height="12.83" fill="#F3BC44"/><rect x="821.83" y="1455.38" width="12.84" height="12.83" fill="#F3BC44"/><rect x="634.48" y="1467.86" width="12.84" height="12.83" fill="#FDFB4E"/><rect x="646.97" y="1467.86" width="12.84" height="12.83" fill="#74F54D"/><rect x="659.46" y="1467.86" width="12.84" height="12.83" fill="#74F54D"/><rect x="671.95" y="1467.86" width="12.84" height="12.83" fill="#74F54D"/><rect x="684.44" y="1467.86" width="12.84" height="12.83" fill="#74F54D"/><rect x="696.93" y="1467.86" width="12.84" height="12.83" fill="#74F54D"/><rect x="709.42" y="1467.86" width="12.84" height="12.83" fill="#74F54D"/><rect x="721.91" y="1467.86" width="12.84" height="12.83" fill="#74F54D"/><rect x="771.87" y="1467.86" width="12.84" height="12.83" fill="#F3BC44"/><rect x="784.36" y="1467.86" width="12.84" height="12.83" fill="#F3BC44"/><rect x="796.85" y="1467.86" width="12.84" height="12.83" fill="#F3BC44"/><rect x="809.34" y="1467.86" width="12.84" height="12.83" fill="#F3BC44"/><rect x="821.83" y="1467.86" width="12.84" height="12.83" fill="#F3BC44"/><rect x="621.99" y="1480.34" width="12.84" height="12.83" fill="#FDFB4E"/><rect x="634.48" y="1480.34" width="12.84" height="12.83" fill="#74F54D"/><rect x="646.97" y="1480.34" width="12.84" height="12.83" fill="#74F54D"/><rect x="659.46" y="1480.34" width="12.84" height="12.83" fill="#74F54D"/><rect x="671.95" y="1480.34" width="12.84" height="12.83" fill="#74F54D"/><rect x="684.44" y="1480.34" width="12.84" height="12.83" fill="#74F54D"/><rect x="696.93" y="1480.34" width="12.84" height="12.83" fill="#74F54D"/><rect x="709.42" y="1480.34" width="12.84" height="12.83" fill="#74F54D"/><rect x="721.91" y="1480.34" width="12.84" height="12.83" fill="#74F54D"/><rect x="771.87" y="1480.34" width="12.84" height="12.83" fill="#F3BC44"/><rect x="784.36" y="1480.34" width="12.84" height="12.83" fill="#FDFB4E"/><rect x="796.85" y="1480.34" width="12.84" height="12.83" fill="#F3BC44"/><rect x="809.34" y="1480.34" width="12.84" height="12.83" fill="#F3BC44"/><rect x="821.83" y="1480.34" width="12.84" height="12.83" fill="#F3BC44"/><rect x="621.99" y="1492.82" width="12.84" height="12.83" fill="#FDFB4E"/><rect x="634.48" y="1492.82" width="12.84" height="12.83" fill="#74F54D"/><rect x="646.97" y="1492.82" width="12.84" height="12.83" fill="#74F54D"/><rect x="659.46" y="1492.82" width="12.84" height="12.83" fill="#74F54D"/><rect x="671.95" y="1492.82" width="12.84" height="12.83" fill="#74F54D"/><rect x="684.44" y="1492.82" width="12.84" height="12.83" fill="#74F54D"/><rect x="696.93" y="1492.82" width="12.84" height="12.83" fill="#74F54D"/><rect x="709.42" y="1492.82" width="12.84" height="12.83" fill="#74F54D"/><rect x="759.38" y="1492.82" width="12.84" height="12.83" fill="#F3BC44"/><rect x="771.87" y="1492.82" width="12.84" height="12.83" fill="#F3BC44"/><rect x="784.36" y="1492.82" width="12.84" height="12.83" fill="#F3BC44"/><rect x="796.85" y="1492.82" width="12.84" height="12.83" fill="#F3BC44"/><rect x="809.34" y="1492.82" width="12.84" height="12.83" fill="#F3BC44"/><rect x="609.50" y="1505.30" width="12.84" height="12.83" fill="#FDFB4E"/><rect x="634.48" y="1505.30" width="12.84" height="12.83" fill="#74F54D"/><rect x="646.97" y="1505.30" width="12.84" height="12.83" fill="#74F54D"/><rect x="659.46" y="1505.30" width="12.84" height="12.83" fill="#74F54D"/><rect x="671.95" y="1505.30" width="12.84" height="12.83" fill="#74F54D"/><rect x="684.44" y="1505.30" width="12.84" height="12.83" fill="#74F54D"/><rect x="696.93" y="1505.30" width="12.84" height="12.83" fill="#74F54D"/><rect x="759.38" y="1505.30" width="12.84" height="12.83" fill="#F3BC44"/><rect x="771.87" y="1505.30" width="12.84" height="12.83" fill="#FDFB4E"/><rect x="784.36" y="1505.30" width="12.84" height="12.83" fill="#FDFB4E"/><rect x="796.85" y="1505.30" width="12.84" height="12.83" fill="#F3BC44"/><rect x="809.34" y="1505.30" width="12.84" height="12.83" fill="#F3BC44"/><rect x="609.50" y="1517.78" width="12.84" height="12.83" fill="#FDFB4E"/><rect x="634.48" y="1517.78" width="12.84" height="12.83" fill="#74F54D"/><rect x="646.97" y="1517.78" width="12.84" height="12.83" fill="#74F54D"/><rect x="659.46" y="1517.78" width="12.84" height="12.83" fill="#74F54D"/><rect x="671.95" y="1517.78" width="12.84" height="12.83" fill="#74F54D"/><rect x="684.44" y="1517.78" width="12.84" height="12.83" fill="#74F54D"/><rect x="696.93" y="1517.78" width="12.84" height="12.83" fill="#74F54D"/><rect x="746.89" y="1517.78" width="12.84" height="12.83" fill="#F3BC44"/><rect x="759.38" y="1517.78" width="12.84" height="12.83" fill="#F3BC44"/><rect x="771.87" y="1517.78" width="12.84" height="12.83" fill="#FDFB4E"/><rect x="784.36" y="1517.78" width="12.84" height="12.83" fill="#F3BC44"/><rect x="796.85" y="1517.78" width="12.84" height="12.83" fill="#F3BC44"/><rect x="597.01" y="1530.26" width="12.84" height="12.83" fill="#FDFB4E"/><rect x="634.48" y="1530.26" width="12.84" height="12.83" fill="#74F54D"/><rect x="646.97" y="1530.26" width="12.84" height="12.83" fill="#74F54D"/><rect x="659.46" y="1530.26" width="12.84" height="12.83" fill="#74F54D"/><rect x="671.95" y="1530.26" width="12.84" height="12.83" fill="#74F54D"/><rect x="684.44" y="1530.26" width="12.84" height="12.83" fill="#74F54D"/><rect x="696.93" y="1530.26" width="12.84" height="12.83" fill="#74F54D"/><rect x="746.89" y="1530.26" width="12.84" height="12.83" fill="#F3BC44"/><rect x="759.38" y="1530.26" width="12.84" height="12.83" fill="#F3BC44"/><rect x="771.87" y="1530.26" width="12.84" height="12.83" fill="#FDFB4E"/><rect x="784.36" y="1530.26" width="12.84" height="12.83" fill="#F3BC44"/><rect x="796.85" y="1530.26" width="12.84" height="12.83" fill="#F3BC44"/><rect x="597.01" y="1542.74" width="12.84" height="12.83" fill="#FDFB4E"/><rect x="634.48" y="1542.74" width="12.84" height="12.83" fill="#74F54D"/><rect x="646.97" y="1542.74" width="12.84" height="12.83" fill="#74F54D"/><rect x="659.46" y="1542.74" width="12.84" height="12.83" fill="#74F54D"/><rect x="671.95" y="1542.74" width="12.84" height="12.83" fill="#74F54D"/><rect x="684.44" y="1542.74" width="12.84" height="12.83" fill="#74F54D"/><rect x="696.93" y="1542.74" width="12.84" height="12.83" fill="#74F54D"/><rect x="746.89" y="1542.74" width="12.84" height="12.83" fill="#F3BC44"/><rect x="759.38" y="1542.74" width="12.84" height="12.83" fill="#FDFB4E"/><rect x="771.87" y="1542.74" width="12.84" height="12.83" fill="#F3BC44"/><rect x="784.36" y="1542.74" width="12.84" height="12.83" fill="#F3BC44"/><rect x="796.85" y="1542.74" width="12.84" height="12.83" fill="#F3BC44"/><rect x="584.52" y="1555.22" width="12.84" height="12.83" fill="#FDFB4E"/><rect x="634.48" y="1555.22" width="12.84" height="12.83" fill="#74F54D"/><rect x="646.97" y="1555.22" width="12.84" height="12.83" fill="#74F54D"/><rect x="684.44" y="1555.22" width="12.84" height="12.83" fill="#74F54D"/><rect x="696.93" y="1555.22" width="12.84" height="12.83" fill="#74F54D"/><rect x="734.40" y="1555.22" width="12.84" height="12.83" fill="#F3BC44"/><rect x="746.89" y="1555.22" width="12.84" height="12.83" fill="#F3BC44"/><rect x="759.38" y="1555.22" width="12.84" height="12.83" fill="#FDFB4E"/><rect x="771.87" y="1555.22" width="12.84" height="12.83" fill="#F3BC44"/><rect x="784.36" y="1555.22" width="12.84" height="12.83" fill="#F3BC44"/><rect x="584.52" y="1567.70" width="12.84" height="12.83" fill="#FDFB4E"/><rect x="634.48" y="1567.70" width="12.84" height="12.83" fill="#74F54D"/><rect x="646.97" y="1567.70" width="12.84" height="12.83" fill="#FDFB4E"/><rect x="734.40" y="1567.70" width="12.84" height="12.83" fill="#F3BC44"/><rect x="746.89" y="1567.70" width="12.84" height="12.83" fill="#F3BC44"/><rect x="759.38" y="1567.70" width="12.84" height="12.83" fill="#F3BC44"/><rect x="771.87" y="1567.70" width="12.84" height="12.83" fill="#F3BC44"/><rect x="784.36" y="1567.70" width="12.84" height="12.83" fill="#F3BC44"/><rect x="634.48" y="1580.18" width="12.84" height="12.83" fill="#74F54D"/><rect x="646.97" y="1580.18" width="12.84" height="12.83" fill="#74F54D"/><rect x="721.91" y="1580.18" width="12.84" height="12.83" fill="#F3BC44"/><rect x="734.40" y="1580.18" width="12.84" height="12.83" fill="#F3BC44"/><rect x="746.89" y="1580.18" width="12.84" height="12.83" fill="#F3BC44"/><rect x="759.38" y="1580.18" width="12.84" height="12.83" fill="#F3BC44"/><rect x="771.87" y="1580.18" width="12.84" height="12.83" fill="#F3BC44"/><rect x="634.48" y="1592.66" width="12.84" height="12.83" fill="#FDFB4E"/><rect x="646.97" y="1592.66" width="12.84" height="12.83" fill="#74F54D"/><rect x="721.91" y="1592.66" width="12.84" height="12.83" fill="#F3BC44"/><rect x="734.40" y="1592.66" width="12.84" height="12.83" fill="#F3BC44"/><rect x="746.89" y="1592.66" width="12.84" height="12.83" fill="#F3BC44"/><rect x="759.38" y="1592.66" width="12.84" height="12.83" fill="#F3BC44"/><rect x="771.87" y="1592.66" width="12.84" height="12.83" fill="#F3BC44"/><rect x="709.42" y="1605.14" width="12.84" height="12.83" fill="#F3BC44"/><rect x="721.91" y="1605.14" width="12.84" height="12.83" fill="#F3BC44"/><rect x="734.40" y="1605.14" width="12.84" height="12.83" fill="#F3BC44"/><rect x="746.89" y="1605.14" width="12.84" height="12.83" fill="#F3BC44"/><rect x="759.38" y="1605.14" width="12.84" height="12.83" fill="#F3BC44"/><rect x="709.42" y="1617.62" width="12.84" height="12.83" fill="#F3BC44"/><rect x="721.91" y="1617.62" width="12.84" height="12.83" fill="#F3BC44"/><rect x="746.89" y="1617.62" width="12.84" height="12.83" fill="#F3BC44"/><rect x="759.38" y="1617.62" width="12.84" height="12.83" fill="#F3BC44"/><rect x="696.93" y="1630.10" width="12.84" height="12.83" fill="#F3BC44"/><rect x="709.42" y="1630.10" width="12.84" height="12.83" fill="#F3BC44"/><rect x="721.91" y="1630.10" width="12.84" height="12.83" fill="#F3BC44"/><rect x="746.89" y="1630.10" width="12.84" height="12.83" fill="#F3BC44"/><rect x="759.38" y="1630.10" width="12.84" height="12.83" fill="#F3BC44"/><rect x="696.93" y="1642.58" width="12.84" height="12.83" fill="#F3BC44"/><rect x="709.42" y="1642.58" width="12.84" height="12.83" fill="#F3BC44"/><rect x="684.44" y="1655.06" width="12.84" height="12.83" fill="#F3BC44"/><rect x="696.93" y="1655.06" width="12.84" height="12.83" fill="#F3BC44"/><rect x="709.42" y="1655.06" width="12.84" height="12.83" fill="#F3BC44"/><rect x="684.44" y="1667.54" width="12.84" height="12.83" fill="#F3BC44"/><rect x="696.93" y="1667.54" width="12.84" height="12.83" fill="#F3BC44"/><rect x="684.44" y="1680.02" width="12.84" height="12.83" fill="#F3BC44"/><rect x="696.93" y="1680.02" width="12.84" height="12.83" fill="#F3BC44"/><rect x="671.95" y="1692.50" width="12.84" height="12.83" fill="#F3BC44"/><rect x="684.44" y="1692.50" width="12.84" height="12.83" fill="#F3BC44"/><rect x="671.95" y="1704.98" width="12.84" height="12.83" fill="#F3BC44"/><rect x="684.44" y="1704.98" width="12.84" height="12.83" fill="#F3BC44"/><rect x="659.46" y="1717.46" width="12.84" height="12.83" fill="#F3BC44"/><rect x="671.95" y="1717.46" width="12.84" height="12.83" fill="#F3BC44"/><rect x="659.46" y="1729.94" width="12.84" height="12.83" fill="#F3BC44"/><rect x="671.95" y="1729.94" width="12.84" height="12.83" fill="#F3BC44"/><rect x="646.97" y="1742.42" width="12.84" height="12.83" fill="#F3BC44"/><rect x="659.46" y="1742.42" width="12.84" height="12.83" fill="#F3BC44"/><rect x="659.46" y="1754.90" width="12.84" height="12.83" fill="#F3BC44"/></g>
<path d="M1284.0 319.7H1296.5M1284.0 319.7V332.2M1296.5 319.7V332.2M1284.0 344.7H1296.5M1284.0 332.2V344.7M1296.5 332.2V344.7M1271.5 344.7H1284.0M1271.5 344.7V357.1M1284.0 344.7V357.1M1271.5 357.1V369.6M1284.0 357.1V369.6M1259.0 369.6H1271.5M1271.5 382.1H1284.0M1284.0 369.6V382.1M1271.5 382.1V394.6M1271.5 419.5V432.0M1046.7 544.3H1059.1M1046.7 544.3V556.8M984.2 619.2H996.7M984.2 619.2V631.7M1046.7 631.7H1059.1M1059.1 619.2V631.7M1046.7 631.7V644.2M1121.6 631.7V644.2M1034.2 656.7H1046.7M1046.7 644.2V656.7M1021.7 669.1H1034.2M1034.2 656.7V669.1M1109.1 656.7V669.1M1009.2 681.6H1021.7M1021.7 669.1V681.6M1009.2 681.6V694.1M996.7 706.6H1009.2M1009.2 694.1V706.6M996.7 706.6V719.1M984.2 731.5H996.7M996.7 719.1V731.5M1046.7 744.0H1059.1M1046.7 744.0V756.5M1034.2 756.5H1046.7M1034.2 756.5V769.0M1034.2 769.0V781.5M1021.7 781.5H1034.2M1021.7 781.5V793.9M896.8 843.9H909.3M896.8 843.9V856.3M746.9 1193.3H759.4M746.9 1193.3V1205.8M809.3 1268.2V1280.7M796.9 1293.1H809.3M809.3 1280.7V1293.1M796.9 1293.1V1305.6M796.9 1305.6V1318.1M784.4 1330.6H796.9M796.9 1318.1V1330.6M784.4 1330.6V1343.1M672.0 1343.1H684.4M672.0 1343.1V1355.5M771.9 1355.5H784.4M784.4 1343.1V1355.5M672.0 1355.5V1368.0M771.9 1355.5V1368.0M672.0 1368.0V1380.5M771.9 1368.0V1380.5M659.5 1380.5H672.0M659.5 1380.5V1393.0M759.4 1393.0H771.9M771.9 1380.5V1393.0M759.4 1393.0V1405.5M647.0 1405.5H659.5M647.0 1405.5V1417.9M759.4 1405.5V1417.9M647.0 1417.9V1430.4M746.9 1430.4H759.4M759.4 1417.9V1430.4M634.5 1430.4H647.0M634.5 1430.4V1442.9M746.9 1430.4V1442.9M634.5 1442.9V1455.4M746.9 1442.9V1455.4M734.4 1467.9H746.9M746.9 1455.4V1467.9M734.4 1467.9V1480.3M721.9 1492.8H734.4M734.4 1480.3V1492.8M721.9 1492.8V1505.3M709.4 1530.3V1542.7M709.4 1542.7V1555.2M634.5 1555.2V1567.7M696.9 1567.7H709.4M709.4 1555.2V1567.7M634.5 1567.7V1580.2M634.5 1580.2V1592.7M647.0 1605.1H659.5" stroke="#3f9a2c" stroke-opacity="0.8" stroke-width="1.3" fill="none"/>
<path d="M1246.5 369.6H1259.0M1246.5 369.6V382.1M1246.5 382.1V394.6M1234.0 394.6H1246.5M1234.0 394.6V407.1M1271.5 394.6V407.1M1221.5 407.1H1234.0M1221.5 407.1V419.5M1271.5 407.1V419.5M1209.0 419.5H1221.5M1209.0 419.5V432.0M1209.0 432.0V444.5M1271.5 432.0V444.5M1196.5 444.5H1209.0M1196.5 444.5V457.0M1259.0 457.0H1271.5M1271.5 444.5V457.0M1196.5 457.0V469.5M1184.0 469.5H1196.5M1184.0 469.5V481.9M1171.5 494.4H1184.0M1171.5 494.4V506.9M1084.1 506.9H1096.6M1084.1 506.9V519.4M1246.5 519.4V531.9M1234.0 544.3H1246.5M1246.5 531.9V544.3M1234.0 544.3V556.8M1146.6 556.8H1159.1M1146.6 556.8V569.3M1221.5 569.3H1234.0M1234.0 556.8V569.3M1146.6 569.3V581.8M1221.5 569.3V581.8M1134.1 581.8H1146.6M1134.1 581.8V594.3M1209.0 594.3H1221.5M1221.5 581.8V594.3M1134.1 594.3V606.7M1209.0 594.3V606.7M1196.5 619.2H1209.0M1209.0 606.7V619.2M1196.5 619.2V631.7M1184.0 644.2H1196.5M1196.5 631.7V644.2M1184.0 644.2V656.7M1171.5 669.1H1184.0M1184.0 656.7V669.1M1096.6 669.1H1109.1M1096.6 669.1V681.6M1171.5 669.1V681.6M946.7 681.6H959.2M946.7 681.6V694.1M1084.1 694.1H1096.6M1084.1 694.1V706.6M1159.1 706.6H1171.5M1171.5 694.1V706.6M1159.1 706.6V719.1M1146.6 731.5H1159.1M1159.1 719.1V731.5M1146.6 731.5V744.0M1134.1 756.5H1146.6M1146.6 744.0V756.5M1134.1 756.5V769.0M1134.1 769.0V781.5M1009.2 981.1H1021.7M1021.7 968.7V981.1M984.2 1018.6H996.7M996.7 1006.1V1018.6M971.7 1056.0V1068.5M884.3 1068.5V1081.0M959.2 1081.0H971.7M971.7 1068.5V1081.0M871.8 1081.0H884.3M871.8 1081.0V1093.5M871.8 1093.5V1105.9M946.7 1105.9V1118.4M946.7 1118.4V1130.9M934.2 1143.4V1155.9M859.3 1205.8V1218.3M846.8 1218.3H859.3M846.8 1218.3V1230.7M846.8 1230.7V1243.2M846.8 1243.2V1255.7M846.8 1255.7V1268.2M896.8 1255.7V1268.2M846.8 1268.2V1280.7M896.8 1268.2V1280.7M834.3 1280.7H846.8M834.3 1280.7V1293.1M896.8 1280.7V1293.1M834.3 1293.1V1305.6M884.3 1305.6H896.8M896.8 1293.1V1305.6M834.3 1305.6V1318.1M884.3 1305.6V1318.1M834.3 1318.1V1330.6M884.3 1318.1V1330.6M871.8 1343.1H884.3M884.3 1330.6V1343.1M871.8 1343.1V1355.5" stroke="#9c2a20" stroke-opacity="0.8" stroke-width="1.3" fill="none"/>
<path d="M1259.0 457.0V469.5M1259.0 469.5V481.9M1259.0 481.9V494.4M1259.0 494.4V506.9" stroke="#9a2aa0" stroke-opacity="0.8" stroke-width="1.3" fill="none"/>
<path d="M1184.0 481.9V494.4M1246.5 519.4H1259.0M1259.0 506.9V519.4M1159.1 519.4V531.9M1159.1 531.9V544.3M1159.1 544.3V556.8M1034.2 556.8H1046.7M1034.2 556.8V569.3M1021.7 569.3H1034.2M1021.7 569.3V581.8M996.7 606.7V619.2M1121.6 606.7H1134.1M1121.6 606.7V619.2M1121.6 619.2V631.7M971.7 631.7H984.2M971.7 631.7V644.2M959.2 644.2H971.7M959.2 644.2V656.7M1109.1 644.2H1121.6M1109.1 644.2V656.7M959.2 656.7V669.1M959.2 669.1V681.6M1096.6 681.6V694.1M1171.5 681.6V694.1M946.7 694.1V706.6M934.2 706.6H946.7M934.2 706.6V719.1M1071.6 706.6H1084.1M1071.6 706.6V719.1M1071.6 719.1V731.5M1059.1 731.5H1071.6M1059.1 731.5V744.0M921.8 756.5H934.2M921.8 756.5V769.0M1121.6 793.9H1134.1M1134.1 781.5V793.9M909.3 793.9H921.8M909.3 793.9V806.4M1009.2 793.9H1021.7M1009.2 793.9V806.4M1121.6 793.9V806.4M909.3 806.4V818.9M1121.6 806.4V818.9M996.7 818.9V831.4M1109.1 831.4H1121.6M1121.6 818.9V831.4M984.2 831.4H996.7M984.2 831.4V843.9M1109.1 831.4V843.9M971.7 843.9H984.2M971.7 843.9V856.3M1096.6 856.3H1109.1M1109.1 843.9V856.3M971.7 856.3V868.8M1096.6 856.3V868.8M959.2 868.8H971.7M959.2 868.8V881.3M1084.1 881.3H1096.6M1096.6 868.8V881.3M946.7 881.3H959.2M946.7 881.3V893.8M1071.6 893.8H1084.1M1084.1 881.3V893.8M946.7 893.8V906.3M1059.1 906.3H1071.6M1071.6 893.8V906.3M934.2 906.3H946.7M934.2 906.3V918.7M1059.1 906.3V918.7M921.8 918.7H934.2M921.8 918.7V931.2M1046.7 931.2H1059.1M1059.1 918.7V931.2M921.8 931.2V943.7M1034.2 943.7H1046.7M1046.7 931.2V943.7M921.8 943.7V956.2M1034.2 943.7V956.2M909.3 956.2H921.8M909.3 956.2V968.7M1021.7 968.7H1034.2M1034.2 956.2V968.7M846.8 968.7H859.3M846.8 968.7V981.1M909.3 968.7V981.1M896.8 981.1H909.3M896.8 981.1V993.6M1009.2 981.1V993.6M834.3 993.6H846.8M834.3 993.6V1006.1M896.8 993.6V1006.1M996.7 1006.1H1009.2M1009.2 993.6V1006.1M896.8 1006.1V1018.6M821.8 1018.6H834.3M821.8 1018.6V1031.1M896.8 1018.6V1031.1M984.2 1018.6V1031.1M884.3 1031.1H896.8M884.3 1031.1V1043.5M971.7 1043.5H984.2M984.2 1031.1V1043.5M884.3 1043.5V1056.0M971.7 1043.5V1056.0M884.3 1056.0V1068.5M959.2 1081.0V1093.5M946.7 1105.9H959.2M959.2 1093.5V1105.9M871.8 1105.9V1118.4M784.4 1118.4V1130.9M871.8 1118.4V1130.9M846.8 1130.9V1143.4M871.8 1130.9V1143.4M934.2 1143.4H946.7M946.7 1130.9V1143.4M834.3 1155.9H846.8M846.8 1143.4V1155.9M859.3 1143.4H871.8M859.3 1143.4V1155.9M834.3 1155.9V1168.3M859.3 1155.9V1168.3M934.2 1155.9V1168.3M834.3 1168.3V1180.8M859.3 1168.3V1180.8M921.8 1180.8H934.2M934.2 1168.3V1180.8M859.3 1180.8V1193.3M921.8 1180.8V1193.3M859.3 1193.3V1205.8M921.8 1193.3V1205.8M734.4 1205.8H746.9M734.4 1205.8V1218.3M909.3 1218.3H921.8M921.8 1205.8V1218.3M909.3 1218.3V1230.7M909.3 1230.7V1243.2M809.3 1243.2V1255.7M896.8 1255.7H909.3M909.3 1243.2V1255.7M821.8 1330.6H834.3M821.8 1330.6V1343.1M821.8 1343.1V1355.5M821.8 1355.5V1368.0M871.8 1355.5V1368.0M809.3 1368.0H821.8M809.3 1368.0V1380.5M859.3 1380.5H871.8M871.8 1368.0V1380.5M809.3 1380.5V1393.0M859.3 1380.5V1393.0M809.3 1393.0V1405.5M859.3 1393.0V1405.5M796.9 1405.5H809.3M796.9 1405.5V1417.9M846.8 1417.9H859.3M859.3 1405.5V1417.9M796.9 1417.9V1430.4M846.8 1417.9V1430.4M784.4 1430.4H796.9M784.4 1430.4V1442.9M846.8 1430.4V1442.9M784.4 1442.9V1455.4M834.3 1455.4H846.8M846.8 1442.9V1455.4M784.4 1455.4V1467.9M834.3 1455.4V1467.9M771.9 1467.9H784.4M771.9 1467.9V1480.3M834.3 1467.9V1480.3M771.9 1480.3V1492.8M821.8 1492.8H834.3M834.3 1480.3V1492.8M759.4 1492.8H771.9M759.4 1492.8V1505.3M821.8 1492.8V1505.3M759.4 1505.3V1517.8M809.3 1517.8H821.8M821.8 1505.3V1517.8M746.9 1517.8H759.4M746.9 1517.8V1530.3M809.3 1517.8V1530.3M746.9 1530.3V1542.7M809.3 1530.3V1542.7M746.9 1542.7V1555.2M796.9 1555.2H809.3M809.3 1542.7V1555.2M734.4 1555.2H746.9M734.4 1555.2V1567.7M796.9 1555.2V1567.7M734.4 1567.7V1580.2M784.4 1580.2H796.9M796.9 1567.7V1580.2M721.9 1580.2H734.4M721.9 1580.2V1592.7M784.4 1580.2V1592.7M721.9 1592.7V1605.1M771.9 1605.1H784.4M784.4 1592.7V1605.1M709.4 1605.1H721.9M709.4 1605.1V1617.6M734.4 1617.6H746.9M771.9 1605.1V1617.6M709.4 1617.6V1630.1M734.4 1617.6V1630.1M746.9 1617.6V1630.1M771.9 1617.6V1630.1M696.9 1630.1H709.4M696.9 1630.1V1642.6M721.9 1642.6H734.4M734.4 1630.1V1642.6M746.9 1642.6H759.4M746.9 1630.1V1642.6M759.4 1642.6H771.9M771.9 1630.1V1642.6M696.9 1642.6V1655.1M721.9 1642.6V1655.1M684.4 1655.1H696.9M684.4 1655.1V1667.5M709.4 1667.5H721.9M721.9 1655.1V1667.5M684.4 1667.5V1680.0M709.4 1667.5V1680.0M684.4 1680.0V1692.5M696.9 1692.5H709.4M709.4 1680.0V1692.5M672.0 1692.5H684.4M672.0 1692.5V1705.0M696.9 1692.5V1705.0M672.0 1705.0V1717.5M684.4 1717.5H696.9M696.9 1705.0V1717.5M659.5 1717.5H672.0M659.5 1717.5V1729.9M684.4 1717.5V1729.9M659.5 1729.9V1742.4M672.0 1742.4H684.4M684.4 1729.9V1742.4M647.0 1742.4H659.5M647.0 1754.9H659.5M647.0 1742.4V1754.9M672.0 1742.4V1754.9M659.5 1767.4H672.0M659.5 1754.9V1767.4M672.0 1754.9V1767.4" stroke="#8a7030" stroke-opacity="0.8" stroke-width="1.3" fill="none"/>
<path d="M1159.1 506.9H1171.5M1159.1 506.9V519.4M1009.2 581.8H1021.7M1009.2 581.8V594.3M996.7 594.3H1009.2M996.7 594.3V606.7M996.7 806.4H1009.2M996.7 806.4V818.9M771.9 1130.9H784.4M771.9 1130.9V1143.4M771.9 1143.4V1155.9M759.4 1155.9H771.9M759.4 1155.9V1168.3M759.4 1168.3V1180.8M759.4 1180.8V1193.3M809.3 1255.7V1268.2M659.5 1393.0V1405.5M634.5 1455.4V1467.9M622.0 1480.3V1492.8M609.5 1505.3V1517.8M609.5 1517.8V1530.3M597.0 1530.3H609.5M597.0 1530.3V1542.7M597.0 1555.2H609.5M597.0 1542.7V1555.2M584.5 1555.2H597.0M584.5 1555.2V1567.7M597.0 1555.2V1567.7M584.5 1580.2H597.0M584.5 1567.7V1580.2M597.0 1567.7V1580.2M634.5 1605.1H647.0M634.5 1592.7V1605.1" stroke="#9a9430" stroke-opacity="0.8" stroke-width="1.3" fill="none"/>
<g fill="#F8F8F1" stroke="#5a5a5a" stroke-width="1.5"><rect x="1221.51" y="319.70" width="12.49" height="12.48"/><rect x="1234.00" y="319.70" width="12.49" height="12.48"/><rect x="1246.49" y="319.70" width="12.49" height="12.48"/><rect x="1209.02" y="332.18" width="12.49" height="12.48"/><rect x="1221.51" y="332.18" width="12.49" height="12.48"/><rect x="1234.00" y="332.18" width="12.49" height="12.48"/><rect x="1209.02" y="344.66" width="12.49" height="12.48"/><rect x="1221.51" y="344.66" width="12.49" height="12.48"/><rect x="1196.53" y="357.14" width="12.49" height="12.48"/><rect x="1209.02" y="357.14" width="12.49" height="12.48"/><rect x="1221.51" y="357.14" width="12.49" height="12.48"/><rect x="1196.53" y="369.62" width="12.49" height="12.48"/><rect x="1209.02" y="369.62" width="12.49" height="12.48"/><rect x="1184.04" y="382.10" width="12.49" height="12.48"/><rect x="1196.53" y="382.10" width="12.49" height="12.48"/><rect x="1171.55" y="394.58" width="12.49" height="12.48"/><rect x="1184.04" y="394.58" width="12.49" height="12.48"/><rect x="1171.55" y="407.06" width="12.49" height="12.48"/><rect x="1184.04" y="407.06" width="12.49" height="12.48"/><rect x="1159.06" y="419.54" width="12.49" height="12.48"/><rect x="1171.55" y="419.54" width="12.49" height="12.48"/><rect x="1159.06" y="432.02" width="12.49" height="12.48"/><rect x="1171.55" y="432.02" width="12.49" height="12.48"/><rect x="1146.57" y="444.50" width="12.49" height="12.48"/><rect x="1159.06" y="444.50" width="12.49" height="12.48"/><rect x="1146.57" y="456.98" width="12.49" height="12.48"/><rect x="1159.06" y="456.98" width="12.49" height="12.48"/><rect x="1121.59" y="469.46" width="12.49" height="12.48"/><rect x="1134.08" y="469.46" width="12.49" height="12.48"/><rect x="1146.57" y="469.46" width="12.49" height="12.48"/><rect x="1109.10" y="481.94" width="12.49" height="12.48"/><rect x="1121.59" y="481.94" width="12.49" height="12.48"/><rect x="1134.08" y="481.94" width="12.49" height="12.48"/><rect x="1146.57" y="481.94" width="12.49" height="12.48"/><rect x="1096.61" y="494.42" width="12.49" height="12.48"/><rect x="1109.10" y="494.42" width="12.49" height="12.48"/><rect x="1121.59" y="494.42" width="12.49" height="12.48"/><rect x="1134.08" y="494.42" width="12.49" height="12.48"/><rect x="1146.57" y="494.42" width="12.49" height="12.48"/><rect x="1096.61" y="506.90" width="12.49" height="12.48"/><rect x="1109.10" y="506.90" width="12.49" height="12.48"/><rect x="1121.59" y="506.90" width="12.49" height="12.48"/><rect x="1134.08" y="506.90" width="12.49" height="12.48"/><rect x="1071.63" y="519.38" width="12.49" height="12.48"/><rect x="1084.12" y="519.38" width="12.49" height="12.48"/><rect x="1096.61" y="519.38" width="12.49" height="12.48"/><rect x="1109.10" y="519.38" width="12.49" height="12.48"/><rect x="1121.59" y="519.38" width="12.49" height="12.48"/><rect x="1059.14" y="531.86" width="12.49" height="12.48"/><rect x="1071.63" y="531.86" width="12.49" height="12.48"/><rect x="1084.12" y="531.86" width="12.49" height="12.48"/><rect x="1096.61" y="531.86" width="12.49" height="12.48"/><rect x="1109.10" y="531.86" width="12.49" height="12.48"/><rect x="1059.14" y="544.34" width="12.49" height="12.48"/><rect x="1084.12" y="544.34" width="12.49" height="12.48"/><rect x="1096.61" y="544.34" width="12.49" height="12.48"/><rect x="1109.10" y="544.34" width="12.49" height="12.48"/><rect x="1046.65" y="556.82" width="12.49" height="12.48"/><rect x="1059.14" y="556.82" width="12.49" height="12.48"/><rect x="1071.63" y="556.82" width="12.49" height="12.48"/><rect x="1084.12" y="556.82" width="12.49" height="12.48"/><rect x="1096.61" y="556.82" width="12.49" height="12.48"/><rect x="1059.14" y="569.30" width="12.49" height="12.48"/><rect x="1071.63" y="569.30" width="12.49" height="12.48"/><rect x="1084.12" y="569.30" width="12.49" height="12.48"/><rect x="1046.65" y="581.78" width="12.49" height="12.48"/><rect x="1059.14" y="581.78" width="12.49" height="12.48"/><rect x="1071.63" y="581.78" width="12.49" height="12.48"/><rect x="1034.16" y="594.26" width="12.49" height="12.48"/><rect x="1046.65" y="594.26" width="12.49" height="12.48"/><rect x="1059.14" y="594.26" width="12.49" height="12.48"/><rect x="1071.63" y="594.26" width="12.49" height="12.48"/><rect x="1059.14" y="606.74" width="12.49" height="12.48"/><rect x="971.71" y="706.58" width="12.49" height="12.48"/><rect x="934.24" y="719.06" width="12.49" height="12.48"/><rect x="959.22" y="719.06" width="12.49" height="12.48"/><rect x="971.71" y="719.06" width="12.49" height="12.48"/><rect x="934.24" y="731.54" width="12.49" height="12.48"/><rect x="946.73" y="731.54" width="12.49" height="12.48"/><rect x="959.22" y="731.54" width="12.49" height="12.48"/><rect x="971.71" y="731.54" width="12.49" height="12.48"/><rect x="934.24" y="744.02" width="12.49" height="12.48"/><rect x="946.73" y="744.02" width="12.49" height="12.48"/><rect x="959.22" y="744.02" width="12.49" height="12.48"/><rect x="934.24" y="756.50" width="12.49" height="12.48"/><rect x="946.73" y="756.50" width="12.49" height="12.48"/><rect x="959.22" y="756.50" width="12.49" height="12.48"/><rect x="921.75" y="768.98" width="12.49" height="12.48"/><rect x="934.24" y="768.98" width="12.49" height="12.48"/><rect x="946.73" y="768.98" width="12.49" height="12.48"/><rect x="921.75" y="781.46" width="12.49" height="12.48"/><rect x="934.24" y="781.46" width="12.49" height="12.48"/><rect x="946.73" y="781.46" width="12.49" height="12.48"/><rect x="921.75" y="793.94" width="12.49" height="12.48"/><rect x="934.24" y="793.94" width="12.49" height="12.48"/><rect x="946.73" y="793.94" width="12.49" height="12.48"/><rect x="921.75" y="806.42" width="12.49" height="12.48"/><rect x="934.24" y="806.42" width="12.49" height="12.48"/><rect x="909.26" y="818.90" width="12.49" height="12.48"/><rect x="921.75" y="818.90" width="12.49" height="12.48"/><rect x="934.24" y="818.90" width="12.49" height="12.48"/><rect x="909.26" y="831.38" width="12.49" height="12.48"/><rect x="921.75" y="831.38" width="12.49" height="12.48"/><rect x="909.26" y="843.86" width="12.49" height="12.48"/><rect x="921.75" y="843.86" width="12.49" height="12.48"/><rect x="896.77" y="856.34" width="12.49" height="12.48"/><rect x="909.26" y="856.34" width="12.49" height="12.48"/><rect x="921.75" y="856.34" width="12.49" height="12.48"/><rect x="896.77" y="868.82" width="12.49" height="12.48"/><rect x="909.26" y="868.82" width="12.49" height="12.48"/><rect x="884.28" y="881.30" width="12.49" height="12.48"/><rect x="896.77" y="881.30" width="12.49" height="12.48"/><rect x="909.26" y="881.30" width="12.49" height="12.48"/><rect x="884.28" y="893.78" width="12.49" height="12.48"/><rect x="896.77" y="893.78" width="12.49" height="12.48"/><rect x="871.79" y="906.26" width="12.49" height="12.48"/><rect x="884.28" y="906.26" width="12.49" height="12.48"/><rect x="896.77" y="906.26" width="12.49" height="12.48"/><rect x="871.79" y="918.74" width="12.49" height="12.48"/><rect x="884.28" y="918.74" width="12.49" height="12.48"/><rect x="896.77" y="918.74" width="12.49" height="12.48"/><rect x="871.79" y="931.22" width="12.49" height="12.48"/><rect x="884.28" y="931.22" width="12.49" height="12.48"/><rect x="896.77" y="931.22" width="12.49" height="12.48"/><rect x="859.30" y="943.70" width="12.49" height="12.48"/><rect x="871.79" y="943.70" width="12.49" height="12.48"/><rect x="884.28" y="943.70" width="12.49" height="12.48"/><rect x="859.30" y="956.18" width="12.49" height="12.48"/><rect x="871.79" y="956.18" width="12.49" height="12.48"/><rect x="884.28" y="956.18" width="12.49" height="12.48"/><rect x="859.30" y="968.66" width="12.49" height="12.48"/><rect x="871.79" y="968.66" width="12.49" height="12.48"/><rect x="884.28" y="968.66" width="12.49" height="12.48"/><rect x="846.81" y="981.14" width="12.49" height="12.48"/><rect x="859.30" y="981.14" width="12.49" height="12.48"/><rect x="871.79" y="981.14" width="12.49" height="12.48"/><rect x="846.81" y="993.62" width="12.49" height="12.48"/><rect x="859.30" y="993.62" width="12.49" height="12.48"/><rect x="871.79" y="993.62" width="12.49" height="12.48"/><rect x="834.32" y="1006.10" width="12.49" height="12.48"/><rect x="846.81" y="1006.10" width="12.49" height="12.48"/><rect x="859.30" y="1006.10" width="12.49" height="12.48"/><rect x="871.79" y="1006.10" width="12.49" height="12.48"/><rect x="834.32" y="1018.58" width="12.49" height="12.48"/><rect x="846.81" y="1018.58" width="12.49" height="12.48"/><rect x="859.30" y="1018.58" width="12.49" height="12.48"/><rect x="821.83" y="1031.06" width="12.49" height="12.48"/><rect x="834.32" y="1031.06" width="12.49" height="12.48"/><rect x="846.81" y="1031.06" width="12.49" height="12.48"/><rect x="859.30" y="1031.06" width="12.49" height="12.48"/><rect x="821.83" y="1043.54" width="12.49" height="12.48"/><rect x="834.32" y="1043.54" width="12.49" height="12.48"/><rect x="846.81" y="1043.54" width="12.49" height="12.48"/><rect x="859.30" y="1043.54" width="12.49" height="12.48"/><rect x="809.34" y="1056.02" width="12.49" height="12.48"/><rect x="821.83" y="1056.02" width="12.49" height="12.48"/><rect x="834.32" y="1056.02" width="12.49" height="12.48"/><rect x="846.81" y="1056.02" width="12.49" height="12.48"/><rect x="859.30" y="1056.02" width="12.49" height="12.48"/><rect x="809.34" y="1068.50" width="12.49" height="12.48"/><rect x="821.83" y="1068.50" width="12.49" height="12.48"/><rect x="834.32" y="1068.50" width="12.49" height="12.48"/><rect x="846.81" y="1068.50" width="12.49" height="12.48"/><rect x="796.85" y="1080.98" width="12.49" height="12.48"/><rect x="809.34" y="1080.98" width="12.49" height="12.48"/><rect x="821.83" y="1080.98" width="12.49" height="12.48"/><rect x="834.32" y="1080.98" width="12.49" height="12.48"/><rect x="846.81" y="1080.98" width="12.49" height="12.48"/><rect x="796.85" y="1093.46" width="12.49" height="12.48"/><rect x="809.34" y="1093.46" width="12.49" height="12.48"/><rect x="821.83" y="1093.46" width="12.49" height="12.48"/><rect x="834.32" y="1093.46" width="12.49" height="12.48"/><rect x="846.81" y="1093.46" width="12.49" height="12.48"/><rect x="784.36" y="1105.94" width="12.49" height="12.48"/><rect x="796.85" y="1105.94" width="12.49" height="12.48"/><rect x="809.34" y="1105.94" width="12.49" height="12.48"/><rect x="821.83" y="1105.94" width="12.49" height="12.48"/><rect x="834.32" y="1105.94" width="12.49" height="12.48"/><rect x="846.81" y="1105.94" width="12.49" height="12.48"/><rect x="796.85" y="1118.42" width="12.49" height="12.48"/><rect x="809.34" y="1118.42" width="12.49" height="12.48"/><rect x="821.83" y="1118.42" width="12.49" height="12.48"/><rect x="834.32" y="1118.42" width="12.49" height="12.48"/><rect x="784.36" y="1130.90" width="12.49" height="12.48"/><rect x="796.85" y="1130.90" width="12.49" height="12.48"/><rect x="809.34" y="1130.90" width="12.49" height="12.48"/><rect x="821.83" y="1130.90" width="12.49" height="12.48"/><rect x="784.36" y="1143.38" width="12.49" height="12.48"/><rect x="796.85" y="1143.38" width="12.49" height="12.48"/><rect x="809.34" y="1143.38" width="12.49" height="12.48"/><rect x="821.83" y="1143.38" width="12.49" height="12.48"/><rect x="784.36" y="1155.86" width="12.49" height="12.48"/><rect x="796.85" y="1155.86" width="12.49" height="12.48"/><rect x="809.34" y="1155.86" width="12.49" height="12.48"/><rect x="784.36" y="1168.34" width="12.49" height="12.48"/><rect x="796.85" y="1168.34" width="12.49" height="12.48"/><rect x="809.34" y="1168.34" width="12.49" height="12.48"/><rect x="771.87" y="1180.82" width="12.49" height="12.48"/><rect x="784.36" y="1180.82" width="12.49" height="12.48"/><rect x="796.85" y="1180.82" width="12.49" height="12.48"/><rect x="809.34" y="1180.82" width="12.49" height="12.48"/><rect x="821.83" y="1180.82" width="12.49" height="12.48"/><rect x="771.87" y="1193.30" width="12.49" height="12.48"/><rect x="784.36" y="1193.30" width="12.49" height="12.48"/><rect x="796.85" y="1193.30" width="12.49" height="12.48"/><rect x="821.83" y="1193.30" width="12.49" height="12.48"/><rect x="746.89" y="1205.78" width="12.49" height="12.48"/><rect x="759.38" y="1205.78" width="12.49" height="12.48"/><rect x="771.87" y="1205.78" width="12.49" height="12.48"/><rect x="784.36" y="1205.78" width="12.49" height="12.48"/><rect x="796.85" y="1205.78" width="12.49" height="12.48"/><rect x="809.34" y="1205.78" width="12.49" height="12.48"/><rect x="734.40" y="1218.26" width="12.49" height="12.48"/><rect x="746.89" y="1218.26" width="12.49" height="12.48"/><rect x="759.38" y="1218.26" width="12.49" height="12.48"/><rect x="771.87" y="1218.26" width="12.49" height="12.48"/><rect x="784.36" y="1218.26" width="12.49" height="12.48"/><rect x="809.34" y="1218.26" width="12.49" height="12.48"/><rect x="721.91" y="1230.74" width="12.49" height="12.48"/><rect x="734.40" y="1230.74" width="12.49" height="12.48"/><rect x="759.38" y="1230.74" width="12.49" height="12.48"/><rect x="771.87" y="1230.74" width="12.49" height="12.48"/><rect x="784.36" y="1230.74" width="12.49" height="12.48"/><rect x="796.85" y="1230.74" width="12.49" height="12.48"/><rect x="809.34" y="1230.74" width="12.49" height="12.48"/><rect x="721.91" y="1243.22" width="12.49" height="12.48"/><rect x="734.40" y="1243.22" width="12.49" height="12.48"/><rect x="746.89" y="1243.22" width="12.49" height="12.48"/><rect x="759.38" y="1243.22" width="12.49" height="12.48"/><rect x="771.87" y="1243.22" width="12.49" height="12.48"/><rect x="784.36" y="1243.22" width="12.49" height="12.48"/><rect x="721.91" y="1255.70" width="12.49" height="12.48"/><rect x="759.38" y="1255.70" width="12.49" height="12.48"/><rect x="771.87" y="1255.70" width="12.49" height="12.48"/><rect x="709.42" y="1268.18" width="12.49" height="12.48"/><rect x="721.91" y="1268.18" width="12.49" height="12.48"/><rect x="759.38" y="1268.18" width="12.49" height="12.48"/><rect x="771.87" y="1268.18" width="12.49" height="12.48"/><rect x="709.42" y="1280.66" width="12.49" height="12.48"/><rect x="759.38" y="1280.66" width="12.49" height="12.48"/><rect x="771.87" y="1280.66" width="12.49" height="12.48"/><rect x="696.93" y="1293.14" width="12.49" height="12.48"/><rect x="709.42" y="1293.14" width="12.49" height="12.48"/><rect x="721.91" y="1293.14" width="12.49" height="12.48"/><rect x="759.38" y="1293.14" width="12.49" height="12.48"/><rect x="771.87" y="1293.14" width="12.49" height="12.48"/><rect x="696.93" y="1305.62" width="12.49" height="12.48"/><rect x="709.42" y="1305.62" width="12.49" height="12.48"/><rect x="721.91" y="1305.62" width="12.49" height="12.48"/><rect x="684.44" y="1318.10" width="12.49" height="12.48"/><rect x="696.93" y="1318.10" width="12.49" height="12.48"/><rect x="709.42" y="1318.10" width="12.49" height="12.48"/><rect x="721.91" y="1318.10" width="12.49" height="12.48"/><rect x="684.44" y="1330.58" width="12.49" height="12.48"/><rect x="696.93" y="1330.58" width="12.49" height="12.48"/><rect x="709.42" y="1330.58" width="12.49" height="12.48"/><rect x="721.91" y="1330.58" width="12.49" height="12.48"/><rect x="684.44" y="1343.06" width="12.49" height="12.48"/><rect x="696.93" y="1343.06" width="12.49" height="12.48"/><rect x="709.42" y="1343.06" width="12.49" height="12.48"/><rect x="721.91" y="1343.06" width="12.49" height="12.48"/><rect x="621.99" y="1467.86" width="12.49" height="12.48"/><rect x="609.50" y="1492.82" width="12.49" height="12.48"/><rect x="621.99" y="1505.30" width="12.49" height="12.48"/><rect x="709.42" y="1505.30" width="12.49" height="12.48"/><rect x="621.99" y="1517.78" width="12.49" height="12.48"/><rect x="709.42" y="1517.78" width="12.49" height="12.48"/><rect x="609.50" y="1530.26" width="12.49" height="12.48"/><rect x="621.99" y="1530.26" width="12.49" height="12.48"/><rect x="609.50" y="1542.74" width="12.49" height="12.48"/><rect x="621.99" y="1542.74" width="12.49" height="12.48"/><rect x="659.46" y="1555.22" width="12.49" height="12.48"/><rect x="671.95" y="1555.22" width="12.49" height="12.48"/><rect x="659.46" y="1567.70" width="12.49" height="12.48"/><rect x="671.95" y="1567.70" width="12.49" height="12.48"/><rect x="684.44" y="1567.70" width="12.49" height="12.48"/><rect x="659.46" y="1580.18" width="12.49" height="12.48"/><rect x="671.95" y="1580.18" width="12.49" height="12.48"/><rect x="684.44" y="1580.18" width="12.49" height="12.48"/><rect x="659.46" y="1592.66" width="12.49" height="12.48"/><rect x="671.95" y="1592.66" width="12.49" height="12.48"/><rect x="684.44" y="1592.66" width="12.49" height="12.48"/></g>
<polyline points="148.0,257.5 172.5,281.0 185.0,306.6 234.5,355.0 258.7,405.5 309.5,456.0 334.0,506.0 384.5,556.0 409.1,606.5 459.4,656.7 483.2,705.7 533.4,755.9 558.6,806.2 608.8,855.1 634.0,906.7 684.2,955.7 708.0,1004.6 758.3,1054.9 784.3,1105.6 834.0,1155.4 859.9,1207.0 871.0,1218.1 883.9,1219.0 896.8,1231.0 907.9,1206.1 934.6,1181.3 960.5,1130.5 985.4,1105.6 997.4,1079.8 1021.8,1057.0 1052.0,1000.7 1072.3,981.0 1096.3,931.8 1120.5,906.7 1145.0,870.0 1168.7,832.7 1183.6,807.0 1196.5,781.4 1221.7,756.8 1234.6,730.4 1257.8,705.4 1284.8,655.0 1309.4,632.9 1321.7,605.8 1347.0,581.6 1371.3,531.0 1396.6,505.7 1421.8,457.5 1447.0,431.0 1472.4,381.6 1497.7,356.3 1516.0,315.0" fill="none" stroke="#151515" stroke-width="3" stroke-linejoin="round"/>
<polyline points="734.8,260.2 950.0,610.3 1139.8,926.7" fill="none" stroke="#3B8B36" stroke-width="2.6"/>
<polyline points="866.3,281.0 1021.4,600.0 1216.0,990.6" fill="none" stroke="#3B8B36" stroke-width="2.6"/>
<polyline points="1053.6,298.3 1169.4,756.8" fill="none" stroke="#3B8B36" stroke-width="2.6"/>
<polyline points="1058.5,297.0 1080.6,346.7 1102.8,391.2 1120.0,422.4 1164.4,500.2 1213.7,583.5 1270.0,681.4 1347.5,814.8" fill="none" stroke="#3B8B36" stroke-width="2.6"/>
<polyline points="1149.7,302.5 1339.0,668.5" fill="none" stroke="#3B8B36" stroke-width="2.6"/>
<polyline points="1229.5,309.8 1347.3,518.5" fill="none" stroke="#3B8B36" stroke-width="2.6"/>
<polyline points="800.9,677.2 940.0,880.6 1019.3,1010.0 1080.0,1114.6 1238.7,1400.0 1357.7,1613.7" fill="none" stroke="#3B8B36" stroke-width="2.6"/>
<polyline points="397.5,238.8 500,529.4 517.6,580 641.9,914.7 744,1180 854,1464.3" fill="none" stroke="#1C1C92" stroke-width="2.6"/>
<polygon points="1213.0,423.8 1256.4,507.8 1264.0,503.9 1220.5,419.9" fill="#7A2282" stroke="#3a3320" stroke-width="1.1" stroke-linejoin="round"/><polygon points="1164.3,500.0 1213.7,583.5 1220.8,579.3 1171.4,495.8" fill="#E43CF0" stroke="#3a3320" stroke-width="1.1" stroke-linejoin="round"/><polygon points="1104.2,494.8 1109.8,516.8 1117.1,514.9 1111.5,492.9" fill="#F3BC44" stroke="#3a3320" stroke-width="1.1" stroke-linejoin="round"/><polygon points="1132.7,606.7 1160.3,715.7 1168.0,713.7 1140.5,604.7" fill="#F3BC44" stroke="#3a3320" stroke-width="1.1" stroke-linejoin="round"/><polygon points="1005.7,564.3 1021.3,596.3 1028.5,592.8 1012.9,560.8" fill="#FDFB4E" stroke="#3a3320" stroke-width="1.1" stroke-linejoin="round"/><polygon points="971.2,644.7 1004.8,700.7 1012.2,696.3 978.6,640.3" fill="#F3BC44" stroke="#3a3320" stroke-width="1.1" stroke-linejoin="round"/><polygon points="1078.5,711.3 1107.9,770.3 1115.1,766.8 1085.7,707.8" fill="#F3BC44" stroke="#3a3320" stroke-width="1.1" stroke-linejoin="round"/><polygon points="1040.2,758.4 1101.4,860.4 1109.1,855.8 1047.9,753.8" fill="#E9322B" stroke="#3a3320" stroke-width="1.1" stroke-linejoin="round"/><polygon points="956.0,905.7 1011.8,996.7 1019.4,992.0 963.7,901.0" fill="#E9322B" stroke="#3a3320" stroke-width="1.1" stroke-linejoin="round"/><polygon points="912.8,838.2 935.4,871.2 942.0,866.6 919.4,833.6" fill="#FDFB4E" stroke="#3a3320" stroke-width="1.1" stroke-linejoin="round"/><polygon points="1235.3,320.0 1239.2,327.0 1244.4,324.1 1240.5,317.1" fill="#74F54D" stroke="#3a3320" stroke-width="1.1" stroke-linejoin="round"/><polygon points="1251.8,350.2 1262.5,369.2 1269.4,365.3 1258.7,346.3" fill="#74F54D" stroke="#3a3320" stroke-width="1.1" stroke-linejoin="round"/><polygon points="1264.0,371.0 1269.1,380.0 1274.3,377.1 1269.3,368.1" fill="#74F54D" stroke="#3a3320" stroke-width="1.1" stroke-linejoin="round"/><polygon points="1228.2,607.8 1231.7,613.8 1237.3,610.5 1233.9,604.5" fill="#FDFB4E" stroke="#3a3320" stroke-width="1.1" stroke-linejoin="round"/><polygon points="1239.7,627.8 1243.2,633.8 1248.8,630.5 1245.4,624.5" fill="#FDFB4E" stroke="#3a3320" stroke-width="1.1" stroke-linejoin="round"/><polygon points="1041.7,638.6 1044.7,644.6 1050.1,641.9 1047.1,635.9" fill="#74F54D" stroke="#3a3320" stroke-width="1.1" stroke-linejoin="round"/><polygon points="1019.4,726.0 1023.6,733.0 1028.7,729.9 1024.6,722.9" fill="#FDFB4E" stroke="#3a3320" stroke-width="1.1" stroke-linejoin="round"/><polygon points="744.5,1179.8 755.3,1207.8 762.8,1204.9 751.9,1176.9" fill="#F3BC44" stroke="#3a3320" stroke-width="1.1" stroke-linejoin="round"/><polygon points="767.7,1239.8 785.9,1286.8 793.3,1283.9 775.1,1236.9" fill="#74F54D" stroke="#3a3320" stroke-width="1.1" stroke-linejoin="round"/><polygon points="805.0,1333.5 834.8,1410.5 842.2,1407.6 812.4,1330.6" fill="#F3BC44" stroke="#3a3320" stroke-width="1.1" stroke-linejoin="round"/><polygon points="842.7,1435.0 845.0,1441.0 850.6,1438.8 848.3,1432.8" fill="#FDFB4E" stroke="#3a3320" stroke-width="1.1" stroke-linejoin="round"/>
<line x1="1137.6" y1="927.9" x2="1142.0" y2="925.5" stroke="#3B8B36" stroke-width="2.4"/>
<line x1="1213.8" y1="991.8" x2="1218.2" y2="989.4" stroke="#3B8B36" stroke-width="2.4"/>
<line x1="1167.2" y1="758.0" x2="1171.6" y2="755.6" stroke="#3B8B36" stroke-width="2.4"/>
<line x1="1345.3" y1="816.0" x2="1349.7" y2="813.6" stroke="#3B8B36" stroke-width="2.4"/>
<line x1="1336.8" y1="669.7" x2="1341.2" y2="667.3" stroke="#3B8B36" stroke-width="2.4"/>
<line x1="1345.1" y1="519.7" x2="1349.5" y2="517.3" stroke="#3B8B36" stroke-width="2.4"/>
<line x1="1355.5" y1="1614.9" x2="1359.9" y2="1612.5" stroke="#3B8B36" stroke-width="2.4"/>
<polyline points="796.5,683 801,677.5 808.5,675.5" fill="none" stroke="#888" stroke-width="2"/>
<polyline points="100.0,257.9 397.5,238.8 449.0,235.0 500.0,234.4 549.0,236.8 625.0,239.3 657.0,245.5 679.5,249.0 734.8,260.2 780.0,267.5 802.4,276.1 828.2,281.3 836.0,284.5 843.7,288.2 857.5,287.3 866.3,281.5 877.2,283.5 887.6,282.6 920.0,285.2 937.0,284.5 1005.6,292.0 1045.0,298.3 1140.8,304.5 1217.0,310.6 1239.0,313.0 1300.0,311.5 1325.3,312.0 1336.8,314.5 1394.3,328.3 1417.2,325.0 1428.7,321.8 1442.5,319.5 1490.8,316.0 1516.0,312.6 1536.8,309.5 1551.7,305.5 1567.8,310.0" fill="none" stroke="#8C6239" stroke-width="4.8" stroke-linejoin="round" stroke-linecap="round"/>
<circle cx="734.8" cy="260.2" r="9.3" fill="#fff" stroke="#3a3a3a" stroke-width="1.8"/>
<circle cx="866.3" cy="281" r="9.3" fill="#fff" stroke="#3a3a3a" stroke-width="1.8"/>
<circle cx="1053.6" cy="298.3" r="9.3" fill="#fff" stroke="#3a3a3a" stroke-width="1.8"/>
<circle cx="1058.5" cy="297" r="9.3" fill="#fff" stroke="#3a3a3a" stroke-width="1.8"/>
<circle cx="1149.7" cy="302.5" r="9.3" fill="#fff" stroke="#3a3a3a" stroke-width="1.8"/>
<circle cx="1229.5" cy="309.8" r="9.3" fill="#fff" stroke="#3a3a3a" stroke-width="1.8"/>
<circle cx="397.5" cy="238.8" r="9.3" fill="#fff" stroke="#3a3a3a" stroke-width="1.8"/><circle cx="397.5" cy="238.8" r="4.2" fill="#1010D0"/>
<path d="M745,349.2H1050.4V364.6L1206,444.5L1050.4,383V409H745Z" fill="#fff" fill-opacity="0.9" stroke="#D32F2A" stroke-width="2.6" stroke-linejoin="miter"/>
<path d="M705.3,453.2H1011.8V468L1176.4,538L1011.8,486V512.7H705.3Z" fill="#fff" fill-opacity="0.9" stroke="#D32F2A" stroke-width="2.6" stroke-linejoin="miter"/>
<path d="M551,574.3H857.2V589.5L975.4,662.4L857.2,608V632.5H551Z" fill="#fff" fill-opacity="0.9" stroke="#D32F2A" stroke-width="2.6" stroke-linejoin="miter"/>
<path d="M1209,844.8H1516.3V902.6H1209V877.5L1099.8,824L1209,858.5Z" fill="#fff" fill-opacity="0.9" stroke="#D32F2A" stroke-width="2.6" stroke-linejoin="miter"/>
<path d="M1102.6,1016.2H1409.6V1074.4H1102.6V1045L1031,992.8L1102.6,1027Z" fill="#fff" fill-opacity="0.9" stroke="#D32F2A" stroke-width="2.6" stroke-linejoin="miter"/>
<path d="M925.4,1464.6H1231.6V1523H925.4V1502.2L848.8,1416L925.4,1477.9Z" fill="#fff" fill-opacity="0.9" stroke="#D32F2A" stroke-width="2.6" stroke-linejoin="miter"/>
<path d="M250.7,1181H594.9V1206L718.4,1249.8L594.9,1227.5V1276H250.7Z" fill="#fff" fill-opacity="0.9" stroke="#D32F2A" stroke-width="2.6" stroke-linejoin="miter"/>
<text x="764.3" y="388" font-size="28.5" font-weight="bold" font-style="normal" fill="#000" text-anchor="start" textLength="265" lengthAdjust="spacingAndGlyphs" >19m @ 5.29% CuEq</text>
<text x="723.7" y="491.2" font-size="28.5" font-weight="bold" font-style="normal" fill="#000" text-anchor="start" textLength="266.7" lengthAdjust="spacingAndGlyphs" >20m @ 2.10% CuEq</text>
<text x="569.5" y="611.6" font-size="28.5" font-weight="bold" font-style="normal" fill="#000" text-anchor="start" textLength="265.5" lengthAdjust="spacingAndGlyphs" >13m @ 1.36% CuEq</text>
<text x="1227.2" y="882.6" font-size="28.5" font-weight="bold" font-style="normal" fill="#000" text-anchor="start" textLength="266.8" lengthAdjust="spacingAndGlyphs" >24m @ 1.60% CuEq</text>
<text x="1121.2" y="1053" font-size="28.5" font-weight="bold" font-style="normal" fill="#000" text-anchor="start" textLength="266.1" lengthAdjust="spacingAndGlyphs" >21m @ 1.61% CuEq</text>
<text x="944.9" y="1502.2" font-size="28.5" font-weight="bold" font-style="normal" fill="#000" text-anchor="start" textLength="265.9" lengthAdjust="spacingAndGlyphs" >17m @ 1.49% CuEq</text>
<text x="269.6" y="1219.7" font-size="28" font-weight="normal" font-style="normal" fill="#000" text-anchor="start" textLength="302.4" lengthAdjust="spacingAndGlyphs" >7m @ 1.02% CuEq and</text>
<text x="269.6" y="1254" font-size="28" font-weight="normal" font-style="normal" fill="#000" text-anchor="start" textLength="263.8" lengthAdjust="spacingAndGlyphs" >10m @ 0.66% CuEq</text>
<rect x="7.8" y="5.8" width="1653.5" height="2318.5" fill="none" stroke="#333" stroke-width="2.1"/>
<line x1="360.2" y1="6" x2="360.2" y2="23.6" stroke="#333" stroke-width="2.2"/>
<line x1="860.1" y1="6" x2="860.1" y2="23.6" stroke="#333" stroke-width="2.2"/>
<line x1="1359.4" y1="6" x2="1359.4" y2="23.6" stroke="#333" stroke-width="2.2"/>
<text x="318" y="49.5" font-size="23.5" font-weight="normal" font-style="normal" fill="#444" text-anchor="start" textLength="84" lengthAdjust="spacingAndGlyphs" >415800 E</text>
<text x="818.4" y="50" font-size="23.5" font-weight="normal" font-style="normal" fill="#444" text-anchor="start" textLength="83.6" lengthAdjust="spacingAndGlyphs" >415900 E</text>
<text x="1315.5" y="49.5" font-size="23.5" font-weight="normal" font-style="normal" fill="#444" text-anchor="start" textLength="83.7" lengthAdjust="spacingAndGlyphs" >416000 E</text>
<text x="77" y="117" font-size="45" font-weight="bold" font-style="normal" fill="#333" text-anchor="start" textLength="44.7" lengthAdjust="spacingAndGlyphs" stroke="#333" stroke-width="1.6">W</text>
<text x="1536.5" y="117.3" font-size="45" font-weight="bold" font-style="normal" fill="#333" text-anchor="start" textLength="27.5" lengthAdjust="spacingAndGlyphs" stroke="#333" stroke-width="1.6">E</text>
<text x="29.5" y="234" font-size="24" font-weight="normal" font-style="normal" fill="#444" text-anchor="start" textLength="74.5" lengthAdjust="spacingAndGlyphs" >R.L. (m)</text>
<text x="1574.7" y="234" font-size="24" font-weight="normal" font-style="normal" fill="#444" text-anchor="start" textLength="74.7" lengthAdjust="spacingAndGlyphs" >R.L. (m)</text>
<text x="63.4" y="265.90000000000003" font-size="26.5" font-weight="normal" font-style="normal" fill="#444" text-anchor="end" textLength="33.9" lengthAdjust="spacingAndGlyphs" >250</text>
<line x1="72" y1="257.3" x2="90" y2="257.3" stroke="#444" stroke-width="2"/>
<text x="1605.7" y="265.90000000000003" font-size="26.5" font-weight="normal" font-style="normal" fill="#444" text-anchor="start" textLength="33.9" lengthAdjust="spacingAndGlyphs" >250</text>
<line x1="1579" y1="257.3" x2="1596.6" y2="257.3" stroke="#444" stroke-width="2"/>
<text x="63.4" y="515.5500000000001" font-size="26.5" font-weight="normal" font-style="normal" fill="#444" text-anchor="end" textLength="33.9" lengthAdjust="spacingAndGlyphs" >200</text>
<line x1="72" y1="507.0" x2="90" y2="507.0" stroke="#444" stroke-width="2"/>
<text x="1605.7" y="515.5500000000001" font-size="26.5" font-weight="normal" font-style="normal" fill="#444" text-anchor="start" textLength="33.9" lengthAdjust="spacingAndGlyphs" >200</text>
<line x1="1579" y1="507.0" x2="1596.6" y2="507.0" stroke="#444" stroke-width="2"/>
<text x="63.4" y="765.2" font-size="26.5" font-weight="normal" font-style="normal" fill="#444" text-anchor="end" textLength="33.9" lengthAdjust="spacingAndGlyphs" >150</text>
<line x1="72" y1="756.6" x2="90" y2="756.6" stroke="#444" stroke-width="2"/>
<text x="1605.7" y="765.2" font-size="26.5" font-weight="normal" font-style="normal" fill="#444" text-anchor="start" textLength="33.9" lengthAdjust="spacingAndGlyphs" >150</text>
<line x1="1579" y1="756.6" x2="1596.6" y2="756.6" stroke="#444" stroke-width="2"/>
<text x="63.4" y="1014.85" font-size="26.5" font-weight="normal" font-style="normal" fill="#444" text-anchor="end" textLength="33.9" lengthAdjust="spacingAndGlyphs" >100</text>
<line x1="72" y1="1006.2" x2="90" y2="1006.2" stroke="#444" stroke-width="2"/>
<text x="1605.7" y="1014.85" font-size="26.5" font-weight="normal" font-style="normal" fill="#444" text-anchor="start" textLength="33.9" lengthAdjust="spacingAndGlyphs" >100</text>
<line x1="1579" y1="1006.2" x2="1596.6" y2="1006.2" stroke="#444" stroke-width="2"/>
<text x="63.4" y="1264.5" font-size="26.5" font-weight="normal" font-style="normal" fill="#444" text-anchor="end" textLength="22.5" lengthAdjust="spacingAndGlyphs" >50</text>
<line x1="72" y1="1255.9" x2="90" y2="1255.9" stroke="#444" stroke-width="2"/>
<text x="1605.7" y="1264.5" font-size="26.5" font-weight="normal" font-style="normal" fill="#444" text-anchor="start" textLength="22.5" lengthAdjust="spacingAndGlyphs" >50</text>
<line x1="1579" y1="1255.9" x2="1596.6" y2="1255.9" stroke="#444" stroke-width="2"/>
<text x="63.4" y="1514.1499999999999" font-size="26.5" font-weight="normal" font-style="normal" fill="#444" text-anchor="end" textLength="11.5" lengthAdjust="spacingAndGlyphs" >0</text>
<line x1="72" y1="1505.5" x2="90" y2="1505.5" stroke="#444" stroke-width="2"/>
<text x="1605.7" y="1514.1499999999999" font-size="26.5" font-weight="normal" font-style="normal" fill="#444" text-anchor="start" textLength="11.5" lengthAdjust="spacingAndGlyphs" >0</text>
<line x1="1579" y1="1505.5" x2="1596.6" y2="1505.5" stroke="#444" stroke-width="2"/>
<text x="63.4" y="1763.8" font-size="26.5" font-weight="normal" font-style="normal" fill="#444" text-anchor="end" textLength="29.5" lengthAdjust="spacingAndGlyphs" >-50</text>
<line x1="72" y1="1755.2" x2="90" y2="1755.2" stroke="#444" stroke-width="2"/>
<text x="1605.7" y="1763.8" font-size="26.5" font-weight="normal" font-style="normal" fill="#444" text-anchor="start" textLength="29.5" lengthAdjust="spacingAndGlyphs" >-50</text>
<line x1="1579" y1="1755.2" x2="1596.6" y2="1755.2" stroke="#444" stroke-width="2"/>
<text x="186" y="240" font-size="30" font-weight="normal" font-style="italic" fill="#8C6239" text-anchor="start" textLength="108" lengthAdjust="spacingAndGlyphs" transform="rotate(-3.2 186 240)">Surface</text>
<text x="0" y="0" font-size="28" font-weight="normal" font-style="normal" fill="#333" text-anchor="start" textLength="158" lengthAdjust="spacingAndGlyphs" transform="translate(361 612) rotate(54)">PIT SHELL</text>
<text x="1238" y="1309.7" font-size="37" font-weight="bold" font-style="italic" fill="#3a3a3a" text-anchor="start" textLength="243.6" lengthAdjust="spacingAndGlyphs" >Underground</text>
<text x="1278" y="1354" font-size="37" font-weight="bold" font-style="italic" fill="#3a3a3a" text-anchor="start" textLength="162.4" lengthAdjust="spacingAndGlyphs" >Potential</text>
<text x="440" y="1833.6" font-size="38" font-weight="bold" font-style="italic" fill="#333" text-anchor="start" textLength="261" lengthAdjust="spacingAndGlyphs" >Open at Depth</text>
<polygon points="629.6,1631.3 640.4,1636.3 582.1,1762.3 596.7,1769 567.5,1779.8 556.7,1750.6 571.3,1757.3" fill="url(#arrg)"/>
<text x="317.2" y="1952.9" font-size="34" font-weight="bold" font-style="italic" fill="#333" text-anchor="start" textLength="114.4" lengthAdjust="spacingAndGlyphs" >LEGEND</text>
<line x1="316.5" y1="1957.5" x2="431.6" y2="1957.5" stroke="#333" stroke-width="2"/>
<text x="124.3" y="2057.3" font-size="23" font-weight="normal" font-style="italic" fill="#444" text-anchor="start" textLength="83.1" lengthAdjust="spacingAndGlyphs" >Cu Eq %</text>
<line x1="124" y1="2062" x2="207.5" y2="2062" stroke="#444" stroke-width="1.6"/>
<rect x="103.3" y="2081.9" width="38.5" height="19" fill="#6E1F7E" stroke="#777" stroke-width="1.2"/>
<text x="157.4" y="2097.2000000000003" font-size="17.5" font-weight="normal" font-style="normal" fill="#444" text-anchor="start" textLength="49" lengthAdjust="spacingAndGlyphs" >&gt;= 5.0</text>
<rect x="103.3" y="2106.6" width="38.5" height="19" fill="#E83BF1" stroke="#777" stroke-width="1.2"/>
<text x="157.4" y="2121.9" font-size="17.5" font-weight="normal" font-style="normal" fill="#444" text-anchor="start" textLength="66" lengthAdjust="spacingAndGlyphs" >2.0 to 5.0</text>
<rect x="103.3" y="2131.3" width="38.5" height="19" fill="#E9322B" stroke="#777" stroke-width="1.2"/>
<text x="157.4" y="2146.6000000000004" font-size="17.5" font-weight="normal" font-style="normal" fill="#444" text-anchor="start" textLength="66" lengthAdjust="spacingAndGlyphs" >1.5 to 2.0</text>
<rect x="103.3" y="2156.0" width="38.5" height="19" fill="#F3BC44" stroke="#777" stroke-width="1.2"/>
<text x="157.4" y="2171.3" font-size="17.5" font-weight="normal" font-style="normal" fill="#444" text-anchor="start" textLength="66" lengthAdjust="spacingAndGlyphs" >1.0 to 1.5</text>
<rect x="103.3" y="2180.7" width="38.5" height="19" fill="#FDFB4E" stroke="#777" stroke-width="1.2"/>
<text x="157.4" y="2196.0000000000005" font-size="17.5" font-weight="normal" font-style="normal" fill="#444" text-anchor="start" textLength="66" lengthAdjust="spacingAndGlyphs" >0.7 to 1.0</text>
<rect x="103.3" y="2205.4" width="38.5" height="19" fill="#74F54D" stroke="#777" stroke-width="1.2"/>
<text x="157.4" y="2220.7000000000003" font-size="17.5" font-weight="normal" font-style="normal" fill="#444" text-anchor="start" textLength="66" lengthAdjust="spacingAndGlyphs" >0.5 to 0.7</text>
<rect x="103.3" y="2230.1" width="38.5" height="19" fill="#FFFFFF" stroke="#777" stroke-width="1.2"/>
<text x="157.4" y="2245.4" font-size="17.5" font-weight="normal" font-style="normal" fill="#444" text-anchor="start" textLength="49" lengthAdjust="spacingAndGlyphs" >&gt;= 5.0</text>
<rect x="324.6" y="2011.9" width="42.6" height="24.6" fill="#E9322B"/><rect x="340.5" y="2014.5" width="5.5" height="18" fill="#F3BC44"/><rect x="346" y="2020" width="18" height="11" fill="#F3BC44"/><rect x="350" y="2022.5" width="7" height="7" fill="#74F54D"/>
<text x="389" y="2033" font-size="23" font-weight="normal" font-style="normal" fill="#444" text-anchor="start" textLength="254.5" lengthAdjust="spacingAndGlyphs" >MRE block model - CuEq%</text>
<text x="389" y="2097.6" font-size="23" font-weight="normal" font-style="normal" fill="#444" text-anchor="start" textLength="218.2" lengthAdjust="spacingAndGlyphs" >Diamond (DD) drill hole</text>
<text x="389" y="2127.7" font-size="23" font-weight="normal" font-style="normal" fill="#444" text-anchor="start" textLength="261.3" lengthAdjust="spacingAndGlyphs" >- showing trace, intersection</text>
<text x="389" y="2182" font-size="23" font-weight="normal" font-style="normal" fill="#444" text-anchor="start" textLength="323.7" lengthAdjust="spacingAndGlyphs" >Reverse Circulation (RC) drill hole,</text>
<text x="389" y="2211.9" font-size="23" font-weight="normal" font-style="normal" fill="#444" text-anchor="start" textLength="435.2" lengthAdjust="spacingAndGlyphs" >Diamond (DD) tail - showing trace, intersection</text>
<text x="389" y="2265" font-size="23" font-weight="normal" font-style="normal" fill="#444" text-anchor="start" textLength="318.4" lengthAdjust="spacingAndGlyphs" >Reverse Circulation (RC) drill hole</text>
<text x="389" y="2294.9" font-size="23" font-weight="normal" font-style="normal" fill="#444" text-anchor="start" textLength="261.3" lengthAdjust="spacingAndGlyphs" >- showing trace, intersection</text>
<line x1="317.2" y1="2093" x2="350.4" y2="2128.6" stroke="#111" stroke-width="2.2"/><polygon points="336.0,2112.0 339.7,2116.0 343.7,2112.2 340.1,2108.3" fill="#FDFB4E" stroke="#3a3320" stroke-width="0.5" stroke-linejoin="round"/><polygon points="339.7,2116.0 343.3,2119.9 347.4,2116.1 343.7,2112.2" fill="#F3BC44" stroke="#3a3320" stroke-width="0.5" stroke-linejoin="round"/><polygon points="343.3,2119.9 347.0,2123.8 351.0,2120.0 347.4,2116.1" fill="#74F54D" stroke="#3a3320" stroke-width="0.5" stroke-linejoin="round"/><circle cx="317.2" cy="2093" r="7" fill="#000"/>
<line x1="317.2" y1="2174" x2="350.4" y2="2209.6" stroke="#1C1C92" stroke-width="2.2"/><polygon points="336.0,2193.0 339.7,2197.0 343.7,2193.2 340.1,2189.3" fill="#FDFB4E" stroke="#3a3320" stroke-width="0.5" stroke-linejoin="round"/><polygon points="339.7,2197.0 343.3,2200.9 347.4,2197.1 343.7,2193.2" fill="#F3BC44" stroke="#3a3320" stroke-width="0.5" stroke-linejoin="round"/><polygon points="343.3,2200.9 347.0,2204.8 351.0,2201.0 347.4,2197.1" fill="#74F54D" stroke="#3a3320" stroke-width="0.5" stroke-linejoin="round"/><circle cx="317.2" cy="2174" r="6.5" fill="#fff" stroke="#333" stroke-width="1.5"/><circle cx="317.2" cy="2174" r="3.4" fill="#1010D0"/>
<line x1="317.2" y1="2258.9" x2="350.4" y2="2294.5" stroke="#3B8B36" stroke-width="2.2"/><polygon points="336.0,2277.9 339.7,2281.9 343.7,2278.1 340.1,2274.2" fill="#FDFB4E" stroke="#3a3320" stroke-width="0.5" stroke-linejoin="round"/><polygon points="339.7,2281.9 343.3,2285.8 347.4,2282.0 343.7,2278.1" fill="#F3BC44" stroke="#3a3320" stroke-width="0.5" stroke-linejoin="round"/><polygon points="343.3,2285.8 347.0,2289.7 351.0,2285.9 347.4,2282.0" fill="#74F54D" stroke="#3a3320" stroke-width="0.5" stroke-linejoin="round"/><circle cx="317.2" cy="2258.9" r="6.5" fill="#fff" stroke="#333" stroke-width="1.5"/>
<g><polygon points="1217.0,1963.6 1241.0,1953.5 1241.0,1947.5 1217.0,1957.6" fill="#E8923A" stroke="#fff" stroke-width="0.6"/><polygon points="1217.0,1956.3 1241.0,1946.2 1241.0,1940.2 1217.0,1950.3" fill="#EFB47A" stroke="#fff" stroke-width="0.6"/><polygon points="1217.0,1949.0 1241.0,1938.9 1241.0,1932.9 1217.0,1943.0" fill="#F6DABB" stroke="#fff" stroke-width="0.6"/><polygon points="1233.0,1963.6 1257.0,1953.5 1257.0,1947.5 1233.0,1957.6" fill="#E8923A" stroke="#fff" stroke-width="0.6"/><polygon points="1233.0,1956.3 1257.0,1946.2 1257.0,1940.2 1233.0,1950.3" fill="#EFB47A" stroke="#fff" stroke-width="0.6"/><polygon points="1233.0,1949.0 1257.0,1938.9 1257.0,1932.9 1233.0,1943.0" fill="#F6DABB" stroke="#fff" stroke-width="0.6"/></g>
<text x="1184.6" y="2002" font-size="36" font-weight="normal" font-style="normal" fill="#E8963C" text-anchor="start" textLength="104.4" lengthAdjust="spacingAndGlyphs" stroke="#E8963C" stroke-width="0.5">MBK</text>
<text x="1123" y="2022.8" font-size="15.5" font-weight="bold" font-style="normal" fill="#555" text-anchor="start" textLength="141" lengthAdjust="spacingAndGlyphs" >METAL BANK</text>
<text x="1269" y="2022.8" font-size="15.5" font-weight="normal" font-style="normal" fill="#666" text-anchor="start" textLength="87" lengthAdjust="spacingAndGlyphs" >LIMITED</text>
<rect x="994" y="2075" width="250.7" height="13" fill="#000"/><rect x="1244.7" y="2075.6" width="250.3" height="11.8" fill="#fff" stroke="#333" stroke-width="1.3"/>
<text x="991" y="2066" font-size="25" font-weight="normal" font-style="normal" fill="#333" text-anchor="start" textLength="12.5" lengthAdjust="spacingAndGlyphs" >0</text>
<text x="1232.6" y="2066" font-size="25" font-weight="normal" font-style="normal" fill="#333" text-anchor="start" textLength="24.4" lengthAdjust="spacingAndGlyphs" >50</text>
<text x="1476" y="2066" font-size="25" font-weight="normal" font-style="normal" fill="#333" text-anchor="start" textLength="57" lengthAdjust="spacingAndGlyphs" >100m</text>
<text x="888.4" y="2157.6" font-size="40" font-weight="bold" font-style="normal" fill="#333" text-anchor="start" textLength="698.6" lengthAdjust="spacingAndGlyphs" >2023 MILLENNIUM Co-Cu-Au MRE</text>
<text x="989" y="2205" font-size="41" font-weight="normal" font-style="normal" fill="#333" text-anchor="start" textLength="498.8" lengthAdjust="spacingAndGlyphs" >7722800N Section +/-25m</text>
<text x="964.5" y="2254.4" font-size="41" font-weight="normal" font-style="normal" fill="#333" text-anchor="start" textLength="547.3" lengthAdjust="spacingAndGlyphs" >Showing drilling, MRE model</text>
<text x="1042.9" y="2302.9" font-size="41" font-weight="normal" font-style="normal" fill="#333" text-anchor="start" textLength="389.6" lengthAdjust="spacingAndGlyphs" >and RPEEE aspects</text>
</svg></body></html>
